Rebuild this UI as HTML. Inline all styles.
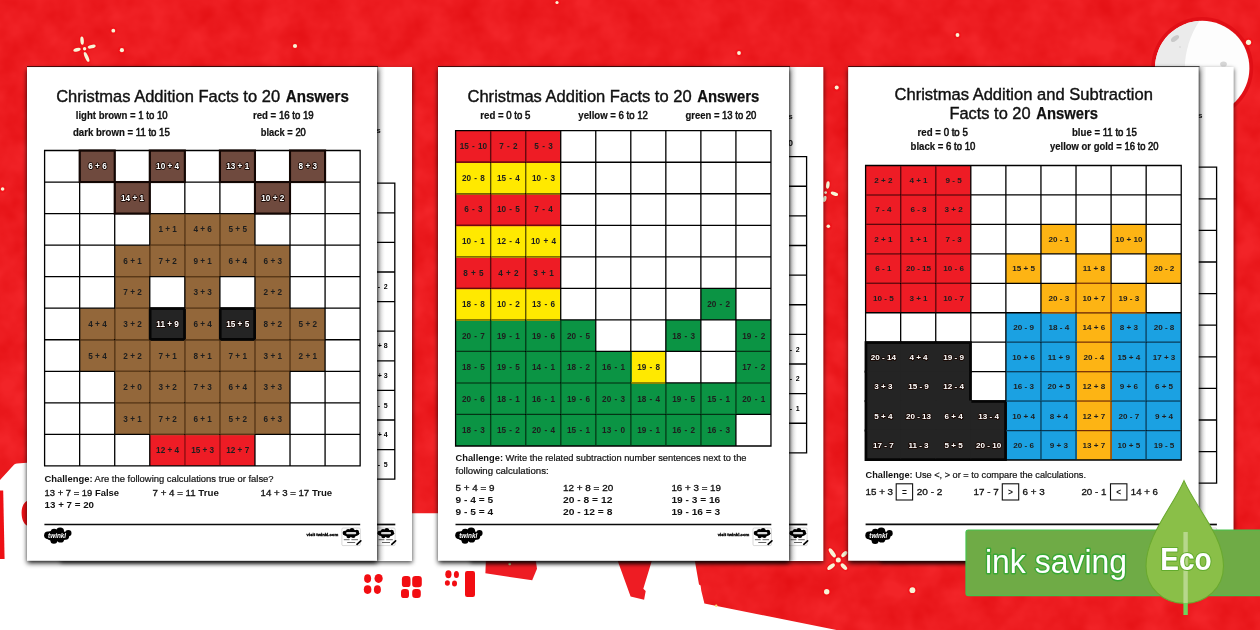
<!DOCTYPE html>
<html lang="en"><head><meta charset="utf-8"><title>Christmas Addition Facts to 20</title>
<style>html,body{margin:0;padding:0;background:#ec1d22;}body{width:1260px;height:630px;overflow:hidden;font-family:"Liberation Sans",sans-serif;}svg{display:block;will-change:transform;transform:translateZ(0);}text{white-space:pre;}</style>
</head><body>
<svg width="1260" height="630" viewBox="0 0 1260 630" font-family="Liberation Sans, sans-serif">
<defs><filter id="sh" x="-10%" y="-5%" width="120%" height="110%"><feDropShadow dx="0.4" dy="1.8" stdDeviation="2.2" flood-color="#000" flood-opacity=".7"/></filter><filter id="sh2" x="-10%" y="-5%" width="120%" height="110%"><feDropShadow dx="0.3" dy="2.4" stdDeviation="2.7" flood-color="#000" flood-opacity=".95"/></filter><linearGradient id="es" x1="0" x2="1" y1="0" y2="0"><stop offset="0" stop-color="#000" stop-opacity=".36"/><stop offset=".25" stop-color="#000" stop-opacity=".13"/><stop offset="1" stop-color="#000" stop-opacity="0"/></linearGradient><filter id="tex" x="0" y="0" width="100%" height="100%" color-interpolation-filters="sRGB"><feTurbulence type="fractalNoise" baseFrequency="0.035" numOctaves="3" seed="7" result="n"/><feColorMatrix in="n" type="matrix" values="0 0 0 0 0.88  0 0 0 0 0.04  0 0 0 0 0.055  1.1 0 0 0 -0.25"/></filter></defs>
<rect x="0" y="0" width="1260" height="630" fill="#f22428"/>
<rect x="0" y="0" width="1260" height="630" filter="url(#tex)"/>
<path d="M0,559 L0,480 L13.5,465.2 C14.5,464.1 15.5,463.5 17,463.4 L27,462.7 L405,462.7 L405,513.3 L445,513.3 L445,552 L693.3,552 L699,584.4 L700.6,585.4 L701.3,590.8 L704.4,603.5 L836.5,630 L0,630 Z" fill="#fff"/>
<path d="M0,490.5 L3.2,490.5 L4.6,559 L0,559 Z" fill="#ee1015"/>
<path d="M614.5,552 L654.5,552 L643.3,588.7 L645.7,591 L644.1,599.8 L630.6,596.6 Z" fill="#ee1c23"/>
<path d="M486.2,552 L534.6,552 L537,568.8 L532.2,580.2 L485.4,573.3 Z" fill="#ee1c23"/>
<circle cx="509.7" cy="564" r="1.3" fill="#d8f0a0"/>
<path d="M27.5,500.5 C23,503 21.5,508 21.6,513 C21.7,519 23.5,524 27.5,526 Z" fill="#ee1015"/>
<ellipse cx="367.6" cy="578.6" rx="3.5" ry="4.3" fill="#f20d12"/>
<ellipse cx="378.6" cy="578.4" rx="4.1" ry="4.5" fill="#f20d12"/>
<ellipse cx="367.6" cy="589.6" rx="3.8" ry="4.3" fill="#f20d12"/>
<ellipse cx="377.4" cy="589.6" rx="3.5" ry="4.3" fill="#f20d12"/>
<rect x="401.9" y="576.1" width="8.6" height="11" rx="3.2" fill="#f20d12"/>
<rect x="412.2" y="575.9" width="9.6" height="11.4" rx="3.2" fill="#f20d12"/>
<rect x="401.0" y="589.1" width="8" height="9" rx="3.2" fill="#f20d12"/>
<rect x="412.2" y="588.9" width="8.6" height="9" rx="3.2" fill="#f20d12"/>
<ellipse cx="448.4" cy="574.3" rx="3.1" ry="4.0" fill="#f20d12"/>
<ellipse cx="456.4" cy="574.6" rx="2.5" ry="3.5" fill="#f20d12"/>
<ellipse cx="447.4" cy="583" rx="2.5" ry="2.8" fill="#f20d12"/>
<ellipse cx="454.5" cy="583.4" rx="2.5" ry="3.0" fill="#f20d12"/>
<rect x="465" y="571" width="10" height="26" rx="2.2" fill="#f20d12"/>
<circle cx="1202.2" cy="68.0" r="51.0" fill="#e10f16"/>
<circle cx="1202.2" cy="68.0" r="47.2" fill="#fdfdfd"/>
<clipPath id="mc"><circle cx="1202.2" cy="68.0" r="47.2"/></clipPath>
<g clip-path="url(#mc)">
<path d="M1200,20 C1189,36 1184,56 1185,72 C1186,92 1192,106 1200,118 L1150,118 L1150,20 Z" fill="#ebebeb"/>
<ellipse cx="1175" cy="38.5" rx="4.6" ry="2.4" transform="rotate(-35 1175 38.5)" fill="#c9c9c9"/>
<ellipse cx="1223.5" cy="64" rx="3.4" ry="2.6" fill="#d6d6d6"/>
<ellipse cx="1180" cy="47" rx="1.1" ry="1.1" fill="#dcdcdc"/>
</g>
<ellipse cx="82.10" cy="40.60" rx="5.71" ry="3.10" transform="rotate(85.6 82.10 40.60)" fill="#f20f16" opacity=".6"/>
<ellipse cx="82.10" cy="40.60" rx="4.11" ry="1.75" transform="rotate(85.6 82.10 40.60)" fill="#f7f5d6"/>
<ellipse cx="91.60" cy="46.60" rx="5.77" ry="3.10" transform="rotate(-13.0 91.60 46.60)" fill="#f20f16" opacity=".6"/>
<ellipse cx="91.60" cy="46.60" rx="4.17" ry="1.75" transform="rotate(-13.0 91.60 46.60)" fill="#f7f5d6"/>
<ellipse cx="77.00" cy="49.80" rx="5.38" ry="3.10" transform="rotate(-15.3 77.00 49.80)" fill="#f20f16" opacity=".6"/>
<ellipse cx="77.00" cy="49.80" rx="3.78" ry="1.75" transform="rotate(-15.3 77.00 49.80)" fill="#f7f5d6"/>
<ellipse cx="86.60" cy="56.90" rx="6.95" ry="3.10" transform="rotate(65.4 86.60 56.90)" fill="#f20f16" opacity=".6"/>
<ellipse cx="86.60" cy="56.90" rx="5.35" ry="1.75" transform="rotate(65.4 86.60 56.90)" fill="#f7f5d6"/>
<circle cx="84.6" cy="48.7" r="3.5999999999999996" fill="#f20f16" opacity=".6"/>
<circle cx="84.6" cy="48.7" r="1.7" fill="#f7f5d6"/>
<circle cx="113.3" cy="30.7" r="3.8" fill="#f20f16" opacity=".6"/>
<circle cx="113.3" cy="30.7" r="1.9" fill="#f7f5d6"/>
<circle cx="121.9" cy="50.2" r="4.0" fill="#f20f16" opacity=".6"/>
<circle cx="121.9" cy="50.2" r="2.1" fill="#f7f5d6"/>
<circle cx="295" cy="46" r="4.0" fill="#f20f16" opacity=".6"/>
<circle cx="295" cy="46" r="2.1" fill="#f7f5d6"/>
<circle cx="557" cy="2.5" r="3.5" fill="#f20f16" opacity=".6"/>
<circle cx="557" cy="2.5" r="1.6" fill="#f7f5d6"/>
<circle cx="739" cy="53" r="3.8" fill="#f20f16" opacity=".6"/>
<circle cx="739" cy="53" r="1.9" fill="#f7f5d6"/>
<circle cx="957.5" cy="35" r="3.8" fill="#f20f16" opacity=".6"/>
<circle cx="957.5" cy="35" r="1.9" fill="#f7f5d6"/>
<circle cx="1248.5" cy="42.3" r="4.5" fill="#f20f16" opacity=".6"/>
<circle cx="1248.5" cy="42.3" r="2.6" fill="#f7f5d6"/>
<circle cx="2.6" cy="189" r="3.7" fill="#f20f16" opacity=".6"/>
<circle cx="2.6" cy="189" r="1.8" fill="#f7f5d6"/>
<circle cx="836.7" cy="87.5" r="3.9" fill="#f20f16" opacity=".6"/>
<circle cx="836.7" cy="87.5" r="2" fill="#f7f5d6"/>
<circle cx="828.3" cy="226.3" r="3.7" fill="#f20f16" opacity=".6"/>
<circle cx="828.3" cy="226.3" r="1.8" fill="#f7f5d6"/>
<ellipse cx="827.80" cy="185.00" rx="5.32" ry="3.10" transform="rotate(97.8 827.80 185.00)" fill="#f20f16" opacity=".6"/>
<ellipse cx="827.80" cy="185.00" rx="3.72" ry="1.75" transform="rotate(97.8 827.80 185.00)" fill="#f7f5d6"/>
<ellipse cx="834.40" cy="193.75" rx="5.42" ry="3.10" transform="rotate(18.8 834.40 193.75)" fill="#f20f16" opacity=".6"/>
<ellipse cx="834.40" cy="193.75" rx="3.82" ry="1.75" transform="rotate(18.8 834.40 193.75)" fill="#f7f5d6"/>
<ellipse cx="824.65" cy="198.90" rx="4.84" ry="3.10" transform="rotate(101.6 824.65 198.90)" fill="#f20f16" opacity=".6"/>
<ellipse cx="824.65" cy="198.90" rx="3.24" ry="1.75" transform="rotate(101.6 824.65 198.90)" fill="#f7f5d6"/>
<circle cx="825.6" cy="192.6" r="3.3" fill="#f20f16" opacity=".6"/>
<circle cx="825.6" cy="192.6" r="1.4" fill="#f7f5d6"/>
<ellipse cx="832.30" cy="552.95" rx="7.02" ry="3.40" transform="rotate(54.6 832.30 552.95)" fill="#f20f16" opacity=".6"/>
<ellipse cx="832.30" cy="552.95" rx="5.42" ry="2.05" transform="rotate(54.6 832.30 552.95)" fill="#f7f5d6"/>
<ellipse cx="844.30" cy="554.10" rx="5.24" ry="3.40" transform="rotate(-45.0 844.30 554.10)" fill="#f20f16" opacity=".6"/>
<ellipse cx="844.30" cy="554.10" rx="3.64" ry="2.05" transform="rotate(-45.0 844.30 554.10)" fill="#f7f5d6"/>
<ellipse cx="831.10" cy="566.65" rx="6.07" ry="3.40" transform="rotate(-38.2 831.10 566.65)" fill="#f20f16" opacity=".6"/>
<ellipse cx="831.10" cy="566.65" rx="4.47" ry="2.05" transform="rotate(-38.2 831.10 566.65)" fill="#f7f5d6"/>
<ellipse cx="843.90" cy="566.65" rx="5.70" ry="3.40" transform="rotate(45.9 843.90 566.65)" fill="#f20f16" opacity=".6"/>
<ellipse cx="843.90" cy="566.65" rx="4.10" ry="2.05" transform="rotate(45.9 843.90 566.65)" fill="#f7f5d6"/>
<circle cx="838.3" cy="560" r="4.4" fill="#f20f16" opacity=".6"/>
<circle cx="838.3" cy="560" r="2.5" fill="#f7f5d6"/>
<circle cx="826.7" cy="591.7" r="4.6" fill="#f20f16" opacity=".6"/>
<circle cx="826.7" cy="591.7" r="2.7" fill="#f7f5d6"/>
<circle cx="912.4" cy="590.2" r="4.8" fill="#f20f16" opacity=".6"/>
<circle cx="912.4" cy="590.2" r="2.9" fill="#f7f5d6"/>
<circle cx="716.2" cy="605.7" r="1.2" fill="#f5e27a"/>
<rect x="60" y="67.0" width="352.00" height="494.00" fill="#fff" filter="url(#sh)"/>
<path d="M394.80,183.20V479.20M375.00,183.20H394.80M375.00,212.80H394.80M375.00,242.40H394.80M375.00,272.00H394.80M375.00,301.60H394.80M375.00,331.20H394.80M375.00,360.80H394.80M375.00,390.40H394.80M375.00,420.00H394.80M375.00,449.60H394.80M375.00,479.20H394.80" stroke="#000" stroke-width="1.3" fill="none" stroke-linecap="square"/>
<text x="377.80" y="289.20" font-size="7.0" font-weight="bold" fill="#000" textLength="9.80" lengthAdjust="spacing">- 2</text>
<text x="377.80" y="348.40" font-size="7.0" font-weight="bold" fill="#000" textLength="9.80" lengthAdjust="spacing">+ 8</text>
<text x="377.80" y="378.00" font-size="7.0" font-weight="bold" fill="#000" textLength="9.80" lengthAdjust="spacing">+ 3</text>
<text x="377.80" y="407.60" font-size="7.0" font-weight="bold" fill="#000" textLength="9.80" lengthAdjust="spacing">- 5</text>
<text x="377.80" y="437.20" font-size="7.0" font-weight="bold" fill="#000" textLength="9.80" lengthAdjust="spacing">+ 4</text>
<text x="377.80" y="466.80" font-size="7.0" font-weight="bold" fill="#000" textLength="9.80" lengthAdjust="spacing">- 5</text>
<text x="376.20" y="133.40" font-size="8" font-weight="bold" fill="#111">s</text>
<line x1="375.0" y1="524.5" x2="395.30" y2="524.5" stroke="#0a0a0a" stroke-width="1.7"/>
<g transform="translate(376.40,527.70)">
<rect x="0.3" y="0.3" width="18.4" height="17.6" rx="1.2" fill="#fff" stroke="#bdbdbd" stroke-width=".6"/>
<g fill="#000"><ellipse cx="9.6" cy="5.6" rx="8.2" ry="3.6"/><circle cx="10.4" cy="2.9" r="2.5"/><circle cx="15.2" cy="4.2" r="2.2"/><circle cx="7" cy="8.4" r="2.2"/><circle cx="11.6" cy="8" r="2.3"/><circle cx="3.4" cy="5.4" r="2.4"/><circle cx="6.6" cy="3.4" r="2.2"/></g>
<rect x="4.6" y="4.2" width="10" height="2.3" rx="1" fill="#fff" opacity=".85"/>
<g stroke="#555" stroke-width=".9"><line x1="2.2" y1="12" x2="8" y2="12"/><line x1="9.8" y1="12" x2="16.4" y2="12"/><line x1="5.6" y1="14.8" x2="13.6" y2="14.8"/></g>
<line x1="15.4" y1="16.6" x2="19.2" y2="13.2" stroke="#000" stroke-width="1.7" stroke-linecap="round"/>
</g>
<rect x="27.0" y="67.0" width="350.00" height="493.60" fill="#fff" filter="url(#sh2)"/>
<line x1="27.0" y1="66.55" x2="378.0" y2="66.55" stroke="#000" stroke-width=".9" opacity=".75"/>
<rect x="377.0" y="67.0" width="8" height="493.60" fill="url(#es)"/>
<text x="56.20" y="102.10" font-size="16.8" fill="#111" textLength="223.90" lengthAdjust="spacingAndGlyphs" stroke="#111" stroke-width=".4">Christmas Addition Facts to 20</text>
<text x="285.70" y="102.10" font-size="16.8" font-weight="bold" fill="#111" textLength="63.20" lengthAdjust="spacingAndGlyphs" stroke="#111" stroke-width=".25">Answers</text>
<text x="75.80" y="119.00" font-size="10.2" font-weight="bold" fill="#111" stroke="#111" stroke-width=".2" textLength="91.80" lengthAdjust="spacingAndGlyphs">light brown = <tspan font-weight="normal" stroke="#111" stroke-width=".55">1 to 10</tspan></text>
<text x="72.95" y="135.80" font-size="10.2" font-weight="bold" fill="#111" stroke="#111" stroke-width=".2" textLength="96.90" lengthAdjust="spacingAndGlyphs">dark brown = <tspan font-weight="normal" stroke="#111" stroke-width=".55">11 to 15</tspan></text>
<text x="252.95" y="119.00" font-size="10.2" font-weight="bold" fill="#111" stroke="#111" stroke-width=".2" textLength="60.70" lengthAdjust="spacingAndGlyphs">red = <tspan font-weight="normal" stroke="#111" stroke-width=".55">16 to 19</tspan></text>
<text x="260.80" y="135.80" font-size="10.2" font-weight="bold" fill="#111" stroke="#111" stroke-width=".2" textLength="45.00" lengthAdjust="spacingAndGlyphs">black = <tspan font-weight="normal" stroke="#111" stroke-width=".55">20</tspan></text>
<rect x="79.66" y="150.50" width="35.06" height="31.54" fill="#6f4a3e"/>
<rect x="149.78" y="150.50" width="35.06" height="31.54" fill="#6f4a3e"/>
<rect x="219.90" y="150.50" width="35.06" height="31.54" fill="#6f4a3e"/>
<rect x="290.02" y="150.50" width="35.06" height="31.54" fill="#6f4a3e"/>
<rect x="114.72" y="182.04" width="35.06" height="31.54" fill="#6f4a3e"/>
<rect x="254.96" y="182.04" width="35.06" height="31.54" fill="#6f4a3e"/>
<rect x="149.78" y="213.58" width="35.06" height="31.54" fill="#93673a"/>
<rect x="184.84" y="213.58" width="35.06" height="31.54" fill="#93673a"/>
<rect x="219.90" y="213.58" width="35.06" height="31.54" fill="#93673a"/>
<rect x="114.72" y="245.12" width="35.06" height="31.54" fill="#93673a"/>
<rect x="149.78" y="245.12" width="35.06" height="31.54" fill="#93673a"/>
<rect x="184.84" y="245.12" width="35.06" height="31.54" fill="#93673a"/>
<rect x="219.90" y="245.12" width="35.06" height="31.54" fill="#93673a"/>
<rect x="254.96" y="245.12" width="35.06" height="31.54" fill="#93673a"/>
<rect x="114.72" y="276.66" width="35.06" height="31.54" fill="#93673a"/>
<rect x="184.84" y="276.66" width="35.06" height="31.54" fill="#93673a"/>
<rect x="254.96" y="276.66" width="35.06" height="31.54" fill="#93673a"/>
<rect x="79.66" y="308.20" width="35.06" height="31.54" fill="#93673a"/>
<rect x="114.72" y="308.20" width="35.06" height="31.54" fill="#93673a"/>
<rect x="149.78" y="308.20" width="35.06" height="31.54" fill="#262626"/>
<rect x="184.84" y="308.20" width="35.06" height="31.54" fill="#93673a"/>
<rect x="219.90" y="308.20" width="35.06" height="31.54" fill="#262626"/>
<rect x="254.96" y="308.20" width="35.06" height="31.54" fill="#93673a"/>
<rect x="290.02" y="308.20" width="35.06" height="31.54" fill="#93673a"/>
<rect x="79.66" y="339.74" width="35.06" height="31.54" fill="#93673a"/>
<rect x="114.72" y="339.74" width="35.06" height="31.54" fill="#93673a"/>
<rect x="149.78" y="339.74" width="35.06" height="31.54" fill="#93673a"/>
<rect x="184.84" y="339.74" width="35.06" height="31.54" fill="#93673a"/>
<rect x="219.90" y="339.74" width="35.06" height="31.54" fill="#93673a"/>
<rect x="254.96" y="339.74" width="35.06" height="31.54" fill="#93673a"/>
<rect x="290.02" y="339.74" width="35.06" height="31.54" fill="#93673a"/>
<rect x="114.72" y="371.28" width="35.06" height="31.54" fill="#93673a"/>
<rect x="149.78" y="371.28" width="35.06" height="31.54" fill="#93673a"/>
<rect x="184.84" y="371.28" width="35.06" height="31.54" fill="#93673a"/>
<rect x="219.90" y="371.28" width="35.06" height="31.54" fill="#93673a"/>
<rect x="254.96" y="371.28" width="35.06" height="31.54" fill="#93673a"/>
<rect x="114.72" y="402.82" width="35.06" height="31.54" fill="#93673a"/>
<rect x="149.78" y="402.82" width="35.06" height="31.54" fill="#93673a"/>
<rect x="184.84" y="402.82" width="35.06" height="31.54" fill="#93673a"/>
<rect x="219.90" y="402.82" width="35.06" height="31.54" fill="#93673a"/>
<rect x="254.96" y="402.82" width="35.06" height="31.54" fill="#93673a"/>
<rect x="149.78" y="434.36" width="35.06" height="31.54" fill="#ee1c25"/>
<rect x="184.84" y="434.36" width="35.06" height="31.54" fill="#ee1c25"/>
<rect x="219.90" y="434.36" width="35.06" height="31.54" fill="#ee1c25"/>
<path d="M44.60,150.50V465.90M79.66,150.50V465.90M114.72,150.50V465.90M149.78,150.50V465.90M184.84,150.50V465.90M219.90,150.50V465.90M254.96,150.50V465.90M290.02,150.50V465.90M325.08,150.50V465.90M360.14,150.50V465.90M44.60,150.50H360.14M44.60,182.04H360.14M44.60,213.58H360.14M44.60,245.12H360.14M44.60,276.66H360.14M44.60,308.20H360.14M44.60,339.74H360.14M44.60,371.28H360.14M44.60,402.82H360.14M44.60,434.36H360.14M44.60,465.90H360.14" stroke="#000" stroke-width="1.3" fill="none" stroke-linecap="square"/>
<rect x="79.66" y="150.50" width="35.06" height="31.54" fill="none" stroke="#120603" stroke-width="2.1"/>
<rect x="149.78" y="150.50" width="35.06" height="31.54" fill="none" stroke="#120603" stroke-width="2.1"/>
<rect x="219.90" y="150.50" width="35.06" height="31.54" fill="none" stroke="#120603" stroke-width="2.1"/>
<rect x="290.02" y="150.50" width="35.06" height="31.54" fill="none" stroke="#120603" stroke-width="2.1"/>
<rect x="114.72" y="182.04" width="35.06" height="31.54" fill="none" stroke="#120603" stroke-width="2.1"/>
<rect x="254.96" y="182.04" width="35.06" height="31.54" fill="none" stroke="#120603" stroke-width="2.1"/>
<rect x="148.78" y="307.20" width="37.06" height="33.54" fill="#050505"/>
<rect x="218.90" y="307.20" width="37.06" height="33.54" fill="#050505"/>
<line x1="184.84" y1="214.28" x2="184.84" y2="244.42" stroke="#93673a" stroke-width="1.7"/><line x1="184.84" y1="214.28" x2="184.84" y2="244.42" stroke="#4a2a0c" stroke-width="0.9"/>
<line x1="150.48" y1="245.12" x2="184.14" y2="245.12" stroke="#93673a" stroke-width="1.7"/><line x1="150.48" y1="245.12" x2="184.14" y2="245.12" stroke="#4a2a0c" stroke-width="0.9"/>
<line x1="219.90" y1="214.28" x2="219.90" y2="244.42" stroke="#93673a" stroke-width="1.7"/><line x1="219.90" y1="214.28" x2="219.90" y2="244.42" stroke="#4a2a0c" stroke-width="0.9"/>
<line x1="185.54" y1="245.12" x2="219.20" y2="245.12" stroke="#93673a" stroke-width="1.7"/><line x1="185.54" y1="245.12" x2="219.20" y2="245.12" stroke="#4a2a0c" stroke-width="0.9"/>
<line x1="220.60" y1="245.12" x2="254.26" y2="245.12" stroke="#93673a" stroke-width="1.7"/><line x1="220.60" y1="245.12" x2="254.26" y2="245.12" stroke="#4a2a0c" stroke-width="0.9"/>
<line x1="149.78" y1="245.82" x2="149.78" y2="275.96" stroke="#93673a" stroke-width="1.7"/><line x1="149.78" y1="245.82" x2="149.78" y2="275.96" stroke="#4a2a0c" stroke-width="0.9"/>
<line x1="115.42" y1="276.66" x2="149.08" y2="276.66" stroke="#93673a" stroke-width="1.7"/><line x1="115.42" y1="276.66" x2="149.08" y2="276.66" stroke="#4a2a0c" stroke-width="0.9"/>
<line x1="184.84" y1="245.82" x2="184.84" y2="275.96" stroke="#93673a" stroke-width="1.7"/><line x1="184.84" y1="245.82" x2="184.84" y2="275.96" stroke="#4a2a0c" stroke-width="0.9"/>
<line x1="219.90" y1="245.82" x2="219.90" y2="275.96" stroke="#93673a" stroke-width="1.7"/><line x1="219.90" y1="245.82" x2="219.90" y2="275.96" stroke="#4a2a0c" stroke-width="0.9"/>
<line x1="185.54" y1="276.66" x2="219.20" y2="276.66" stroke="#93673a" stroke-width="1.7"/><line x1="185.54" y1="276.66" x2="219.20" y2="276.66" stroke="#4a2a0c" stroke-width="0.9"/>
<line x1="254.96" y1="245.82" x2="254.96" y2="275.96" stroke="#93673a" stroke-width="1.7"/><line x1="254.96" y1="245.82" x2="254.96" y2="275.96" stroke="#4a2a0c" stroke-width="0.9"/>
<line x1="255.66" y1="276.66" x2="289.32" y2="276.66" stroke="#93673a" stroke-width="1.7"/><line x1="255.66" y1="276.66" x2="289.32" y2="276.66" stroke="#4a2a0c" stroke-width="0.9"/>
<line x1="115.42" y1="308.20" x2="149.08" y2="308.20" stroke="#93673a" stroke-width="1.7"/><line x1="115.42" y1="308.20" x2="149.08" y2="308.20" stroke="#4a2a0c" stroke-width="0.9"/>
<line x1="185.54" y1="308.20" x2="219.20" y2="308.20" stroke="#93673a" stroke-width="1.7"/><line x1="185.54" y1="308.20" x2="219.20" y2="308.20" stroke="#4a2a0c" stroke-width="0.9"/>
<line x1="255.66" y1="308.20" x2="289.32" y2="308.20" stroke="#93673a" stroke-width="1.7"/><line x1="255.66" y1="308.20" x2="289.32" y2="308.20" stroke="#4a2a0c" stroke-width="0.9"/>
<line x1="114.72" y1="308.90" x2="114.72" y2="339.04" stroke="#93673a" stroke-width="1.7"/><line x1="114.72" y1="308.90" x2="114.72" y2="339.04" stroke="#4a2a0c" stroke-width="0.9"/>
<line x1="80.36" y1="339.74" x2="114.02" y2="339.74" stroke="#93673a" stroke-width="1.7"/><line x1="80.36" y1="339.74" x2="114.02" y2="339.74" stroke="#4a2a0c" stroke-width="0.9"/>
<line x1="115.42" y1="339.74" x2="149.08" y2="339.74" stroke="#93673a" stroke-width="1.7"/><line x1="115.42" y1="339.74" x2="149.08" y2="339.74" stroke="#4a2a0c" stroke-width="0.9"/>
<line x1="185.54" y1="339.74" x2="219.20" y2="339.74" stroke="#93673a" stroke-width="1.7"/><line x1="185.54" y1="339.74" x2="219.20" y2="339.74" stroke="#4a2a0c" stroke-width="0.9"/>
<line x1="290.02" y1="308.90" x2="290.02" y2="339.04" stroke="#93673a" stroke-width="1.7"/><line x1="290.02" y1="308.90" x2="290.02" y2="339.04" stroke="#4a2a0c" stroke-width="0.9"/>
<line x1="255.66" y1="339.74" x2="289.32" y2="339.74" stroke="#93673a" stroke-width="1.7"/><line x1="255.66" y1="339.74" x2="289.32" y2="339.74" stroke="#4a2a0c" stroke-width="0.9"/>
<line x1="290.72" y1="339.74" x2="324.38" y2="339.74" stroke="#93673a" stroke-width="1.7"/><line x1="290.72" y1="339.74" x2="324.38" y2="339.74" stroke="#4a2a0c" stroke-width="0.9"/>
<line x1="114.72" y1="340.44" x2="114.72" y2="370.58" stroke="#93673a" stroke-width="1.7"/><line x1="114.72" y1="340.44" x2="114.72" y2="370.58" stroke="#4a2a0c" stroke-width="0.9"/>
<line x1="149.78" y1="340.44" x2="149.78" y2="370.58" stroke="#93673a" stroke-width="1.7"/><line x1="149.78" y1="340.44" x2="149.78" y2="370.58" stroke="#4a2a0c" stroke-width="0.9"/>
<line x1="115.42" y1="371.28" x2="149.08" y2="371.28" stroke="#93673a" stroke-width="1.7"/><line x1="115.42" y1="371.28" x2="149.08" y2="371.28" stroke="#4a2a0c" stroke-width="0.9"/>
<line x1="184.84" y1="340.44" x2="184.84" y2="370.58" stroke="#93673a" stroke-width="1.7"/><line x1="184.84" y1="340.44" x2="184.84" y2="370.58" stroke="#4a2a0c" stroke-width="0.9"/>
<line x1="150.48" y1="371.28" x2="184.14" y2="371.28" stroke="#93673a" stroke-width="1.7"/><line x1="150.48" y1="371.28" x2="184.14" y2="371.28" stroke="#4a2a0c" stroke-width="0.9"/>
<line x1="219.90" y1="340.44" x2="219.90" y2="370.58" stroke="#93673a" stroke-width="1.7"/><line x1="219.90" y1="340.44" x2="219.90" y2="370.58" stroke="#4a2a0c" stroke-width="0.9"/>
<line x1="185.54" y1="371.28" x2="219.20" y2="371.28" stroke="#93673a" stroke-width="1.7"/><line x1="185.54" y1="371.28" x2="219.20" y2="371.28" stroke="#4a2a0c" stroke-width="0.9"/>
<line x1="254.96" y1="340.44" x2="254.96" y2="370.58" stroke="#93673a" stroke-width="1.7"/><line x1="254.96" y1="340.44" x2="254.96" y2="370.58" stroke="#4a2a0c" stroke-width="0.9"/>
<line x1="220.60" y1="371.28" x2="254.26" y2="371.28" stroke="#93673a" stroke-width="1.7"/><line x1="220.60" y1="371.28" x2="254.26" y2="371.28" stroke="#4a2a0c" stroke-width="0.9"/>
<line x1="290.02" y1="340.44" x2="290.02" y2="370.58" stroke="#93673a" stroke-width="1.7"/><line x1="290.02" y1="340.44" x2="290.02" y2="370.58" stroke="#4a2a0c" stroke-width="0.9"/>
<line x1="255.66" y1="371.28" x2="289.32" y2="371.28" stroke="#93673a" stroke-width="1.7"/><line x1="255.66" y1="371.28" x2="289.32" y2="371.28" stroke="#4a2a0c" stroke-width="0.9"/>
<line x1="149.78" y1="371.98" x2="149.78" y2="402.12" stroke="#93673a" stroke-width="1.7"/><line x1="149.78" y1="371.98" x2="149.78" y2="402.12" stroke="#4a2a0c" stroke-width="0.9"/>
<line x1="115.42" y1="402.82" x2="149.08" y2="402.82" stroke="#93673a" stroke-width="1.7"/><line x1="115.42" y1="402.82" x2="149.08" y2="402.82" stroke="#4a2a0c" stroke-width="0.9"/>
<line x1="184.84" y1="371.98" x2="184.84" y2="402.12" stroke="#93673a" stroke-width="1.7"/><line x1="184.84" y1="371.98" x2="184.84" y2="402.12" stroke="#4a2a0c" stroke-width="0.9"/>
<line x1="150.48" y1="402.82" x2="184.14" y2="402.82" stroke="#93673a" stroke-width="1.7"/><line x1="150.48" y1="402.82" x2="184.14" y2="402.82" stroke="#4a2a0c" stroke-width="0.9"/>
<line x1="219.90" y1="371.98" x2="219.90" y2="402.12" stroke="#93673a" stroke-width="1.7"/><line x1="219.90" y1="371.98" x2="219.90" y2="402.12" stroke="#4a2a0c" stroke-width="0.9"/>
<line x1="185.54" y1="402.82" x2="219.20" y2="402.82" stroke="#93673a" stroke-width="1.7"/><line x1="185.54" y1="402.82" x2="219.20" y2="402.82" stroke="#4a2a0c" stroke-width="0.9"/>
<line x1="254.96" y1="371.98" x2="254.96" y2="402.12" stroke="#93673a" stroke-width="1.7"/><line x1="254.96" y1="371.98" x2="254.96" y2="402.12" stroke="#4a2a0c" stroke-width="0.9"/>
<line x1="220.60" y1="402.82" x2="254.26" y2="402.82" stroke="#93673a" stroke-width="1.7"/><line x1="220.60" y1="402.82" x2="254.26" y2="402.82" stroke="#4a2a0c" stroke-width="0.9"/>
<line x1="255.66" y1="402.82" x2="289.32" y2="402.82" stroke="#93673a" stroke-width="1.7"/><line x1="255.66" y1="402.82" x2="289.32" y2="402.82" stroke="#4a2a0c" stroke-width="0.9"/>
<line x1="149.78" y1="403.52" x2="149.78" y2="433.66" stroke="#93673a" stroke-width="1.7"/><line x1="149.78" y1="403.52" x2="149.78" y2="433.66" stroke="#4a2a0c" stroke-width="0.9"/>
<line x1="184.84" y1="403.52" x2="184.84" y2="433.66" stroke="#93673a" stroke-width="1.7"/><line x1="184.84" y1="403.52" x2="184.84" y2="433.66" stroke="#4a2a0c" stroke-width="0.9"/>
<line x1="150.48" y1="434.36" x2="184.14" y2="434.36" stroke="#93673a" stroke-width="1.7"/><line x1="150.48" y1="434.36" x2="184.14" y2="434.36" stroke="#4a2a0c" stroke-width="0.9"/>
<line x1="219.90" y1="403.52" x2="219.90" y2="433.66" stroke="#93673a" stroke-width="1.7"/><line x1="219.90" y1="403.52" x2="219.90" y2="433.66" stroke="#4a2a0c" stroke-width="0.9"/>
<line x1="185.54" y1="434.36" x2="219.20" y2="434.36" stroke="#93673a" stroke-width="1.7"/><line x1="185.54" y1="434.36" x2="219.20" y2="434.36" stroke="#4a2a0c" stroke-width="0.9"/>
<line x1="254.96" y1="403.52" x2="254.96" y2="433.66" stroke="#93673a" stroke-width="1.7"/><line x1="254.96" y1="403.52" x2="254.96" y2="433.66" stroke="#4a2a0c" stroke-width="0.9"/>
<line x1="220.60" y1="434.36" x2="254.26" y2="434.36" stroke="#93673a" stroke-width="1.7"/><line x1="220.60" y1="434.36" x2="254.26" y2="434.36" stroke="#4a2a0c" stroke-width="0.9"/>
<line x1="184.84" y1="435.06" x2="184.84" y2="465.20" stroke="#ee1c25" stroke-width="1.7"/><line x1="184.84" y1="435.06" x2="184.84" y2="465.20" stroke="#7a0a0c" stroke-width="0.9"/>
<line x1="219.90" y1="435.06" x2="219.90" y2="465.20" stroke="#ee1c25" stroke-width="1.7"/><line x1="219.90" y1="435.06" x2="219.90" y2="465.20" stroke="#7a0a0c" stroke-width="0.9"/>
<rect x="151.48" y="309.90" width="31.66" height="28.14" fill="#242424"/>
<rect x="221.60" y="309.90" width="31.66" height="28.14" fill="#242424"/>
<text x="97.49" y="169.27" font-size="8.2" font-weight="bold" text-anchor="middle" fill="#fff" stroke="#1a0a05" stroke-width="1.8" stroke-linejoin="round" paint-order="stroke">6 + 6</text>
<text x="167.61" y="169.27" font-size="8.2" font-weight="bold" text-anchor="middle" fill="#fff" stroke="#1a0a05" stroke-width="1.8" stroke-linejoin="round" paint-order="stroke">10 + 4</text>
<text x="237.73" y="169.27" font-size="8.2" font-weight="bold" text-anchor="middle" fill="#fff" stroke="#1a0a05" stroke-width="1.8" stroke-linejoin="round" paint-order="stroke">13 + 1</text>
<text x="307.85" y="169.27" font-size="8.2" font-weight="bold" text-anchor="middle" fill="#fff" stroke="#1a0a05" stroke-width="1.8" stroke-linejoin="round" paint-order="stroke">8 + 3</text>
<text x="132.55" y="200.81" font-size="8.2" font-weight="bold" text-anchor="middle" fill="#fff" stroke="#1a0a05" stroke-width="1.8" stroke-linejoin="round" paint-order="stroke">14 + 1</text>
<text x="272.79" y="200.81" font-size="8.2" font-weight="bold" text-anchor="middle" fill="#fff" stroke="#1a0a05" stroke-width="1.8" stroke-linejoin="round" paint-order="stroke">10 + 2</text>
<text x="167.61" y="232.35" font-size="8.2" font-weight="bold" text-anchor="middle" fill="#1e1e1e">1 + 1</text>
<text x="202.67" y="232.35" font-size="8.2" font-weight="bold" text-anchor="middle" fill="#1e1e1e">4 + 6</text>
<text x="237.73" y="232.35" font-size="8.2" font-weight="bold" text-anchor="middle" fill="#1e1e1e">5 + 5</text>
<text x="132.55" y="263.89" font-size="8.2" font-weight="bold" text-anchor="middle" fill="#1e1e1e">6 + 1</text>
<text x="167.61" y="263.89" font-size="8.2" font-weight="bold" text-anchor="middle" fill="#1e1e1e">7 + 2</text>
<text x="202.67" y="263.89" font-size="8.2" font-weight="bold" text-anchor="middle" fill="#1e1e1e">9 + 1</text>
<text x="237.73" y="263.89" font-size="8.2" font-weight="bold" text-anchor="middle" fill="#1e1e1e">6 + 4</text>
<text x="272.79" y="263.89" font-size="8.2" font-weight="bold" text-anchor="middle" fill="#1e1e1e">6 + 3</text>
<text x="132.55" y="295.43" font-size="8.2" font-weight="bold" text-anchor="middle" fill="#1e1e1e">7 + 2</text>
<text x="202.67" y="295.43" font-size="8.2" font-weight="bold" text-anchor="middle" fill="#1e1e1e">3 + 3</text>
<text x="272.79" y="295.43" font-size="8.2" font-weight="bold" text-anchor="middle" fill="#1e1e1e">2 + 2</text>
<text x="97.49" y="326.97" font-size="8.2" font-weight="bold" text-anchor="middle" fill="#1e1e1e">4 + 4</text>
<text x="132.55" y="326.97" font-size="8.2" font-weight="bold" text-anchor="middle" fill="#1e1e1e">3 + 2</text>
<text x="167.61" y="326.97" font-size="8.2" font-weight="bold" text-anchor="middle" fill="#fff" stroke="#1a0a05" stroke-width="1.8" stroke-linejoin="round" paint-order="stroke">11 + 9</text>
<text x="202.67" y="326.97" font-size="8.2" font-weight="bold" text-anchor="middle" fill="#1e1e1e">6 + 4</text>
<text x="237.73" y="326.97" font-size="8.2" font-weight="bold" text-anchor="middle" fill="#fff" stroke="#1a0a05" stroke-width="1.8" stroke-linejoin="round" paint-order="stroke">15 + 5</text>
<text x="272.79" y="326.97" font-size="8.2" font-weight="bold" text-anchor="middle" fill="#1e1e1e">8 + 2</text>
<text x="307.85" y="326.97" font-size="8.2" font-weight="bold" text-anchor="middle" fill="#1e1e1e">5 + 2</text>
<text x="97.49" y="358.51" font-size="8.2" font-weight="bold" text-anchor="middle" fill="#1e1e1e">5 + 4</text>
<text x="132.55" y="358.51" font-size="8.2" font-weight="bold" text-anchor="middle" fill="#1e1e1e">2 + 2</text>
<text x="167.61" y="358.51" font-size="8.2" font-weight="bold" text-anchor="middle" fill="#1e1e1e">7 + 1</text>
<text x="202.67" y="358.51" font-size="8.2" font-weight="bold" text-anchor="middle" fill="#1e1e1e">8 + 1</text>
<text x="237.73" y="358.51" font-size="8.2" font-weight="bold" text-anchor="middle" fill="#1e1e1e">7 + 1</text>
<text x="272.79" y="358.51" font-size="8.2" font-weight="bold" text-anchor="middle" fill="#1e1e1e">3 + 1</text>
<text x="307.85" y="358.51" font-size="8.2" font-weight="bold" text-anchor="middle" fill="#1e1e1e">2 + 1</text>
<text x="132.55" y="390.05" font-size="8.2" font-weight="bold" text-anchor="middle" fill="#1e1e1e">2 + 0</text>
<text x="167.61" y="390.05" font-size="8.2" font-weight="bold" text-anchor="middle" fill="#1e1e1e">3 + 2</text>
<text x="202.67" y="390.05" font-size="8.2" font-weight="bold" text-anchor="middle" fill="#1e1e1e">7 + 3</text>
<text x="237.73" y="390.05" font-size="8.2" font-weight="bold" text-anchor="middle" fill="#1e1e1e">6 + 4</text>
<text x="272.79" y="390.05" font-size="8.2" font-weight="bold" text-anchor="middle" fill="#1e1e1e">3 + 3</text>
<text x="132.55" y="421.59" font-size="8.2" font-weight="bold" text-anchor="middle" fill="#1e1e1e">3 + 1</text>
<text x="167.61" y="421.59" font-size="8.2" font-weight="bold" text-anchor="middle" fill="#1e1e1e">7 + 2</text>
<text x="202.67" y="421.59" font-size="8.2" font-weight="bold" text-anchor="middle" fill="#1e1e1e">6 + 1</text>
<text x="237.73" y="421.59" font-size="8.2" font-weight="bold" text-anchor="middle" fill="#1e1e1e">5 + 2</text>
<text x="272.79" y="421.59" font-size="8.2" font-weight="bold" text-anchor="middle" fill="#1e1e1e">6 + 3</text>
<text x="167.61" y="453.13" font-size="8.2" font-weight="bold" text-anchor="middle" fill="#1e1e1e">12 + 4</text>
<text x="202.67" y="453.13" font-size="8.2" font-weight="bold" text-anchor="middle" fill="#1e1e1e">15 + 3</text>
<text x="237.73" y="453.13" font-size="8.2" font-weight="bold" text-anchor="middle" fill="#1e1e1e">12 + 7</text>
<text x="44.4" y="482.3" font-size="9.2" fill="#111" textLength="229.2" lengthAdjust="spacingAndGlyphs"><tspan font-weight="bold">Challenge:</tspan> <tspan stroke="#111" stroke-width=".2">Are the following calculations true or false?</tspan></text>
<text x="44.6" y="495.8" font-size="8.8" fill="#111" textLength="74.4" lengthAdjust="spacingAndGlyphs"><tspan stroke="#111" stroke-width=".3">13 + 7 = 19 </tspan><tspan font-weight="bold">False</tspan></text>
<text x="152.6" y="495.8" font-size="8.8" fill="#111" textLength="66.2" lengthAdjust="spacingAndGlyphs"><tspan stroke="#111" stroke-width=".3">7 + 4 = 11 </tspan><tspan font-weight="bold">True</tspan></text>
<text x="260.6" y="495.8" font-size="8.8" fill="#111" textLength="71.6" lengthAdjust="spacingAndGlyphs"><tspan stroke="#111" stroke-width=".3">14 + 3 = 17 </tspan><tspan font-weight="bold">True</tspan></text>
<text x="44.60" y="507.60" font-size="8.8" font-weight="bold" fill="#111" textLength="49.40" lengthAdjust="spacingAndGlyphs">13 + 7 = 20</text>
<line x1="44.40" y1="524.5" x2="360.20" y2="524.5" stroke="#0a0a0a" stroke-width="1.7"/>
<g transform="translate(44.10,527.50)" fill="#000">
<ellipse cx="12.4" cy="8.2" rx="11.4" ry="5.6"/><circle cx="16" cy="4" r="4"/><circle cx="24.2" cy="5.6" r="3.2"/><circle cx="9.8" cy="12.8" r="3.5"/><circle cx="16.5" cy="11.4" r="3.6"/><circle cx="3.8" cy="7.8" r="3.8"/><circle cx="10" cy="4.6" r="3.4"/><circle cx="21.5" cy="8.6" r="3.6"/>
<text x="4.0" y="10.4" font-size="6.8" font-weight="bold" font-style="italic" fill="#fff" textLength="18.0" lengthAdjust="spacingAndGlyphs">twinkl</text>
</g>
<text x="306.60" y="536.30" font-size="4.4" font-weight="bold" fill="#000" textLength="31.60" lengthAdjust="spacingAndGlyphs" stroke="#000" stroke-width=".35">visit twinkl.com</text>
<g transform="translate(341.60,527.70)">
<rect x="0.3" y="0.3" width="18.4" height="17.6" rx="1.2" fill="#fff" stroke="#bdbdbd" stroke-width=".6"/>
<g fill="#000"><ellipse cx="9.6" cy="5.6" rx="8.2" ry="3.6"/><circle cx="10.4" cy="2.9" r="2.5"/><circle cx="15.2" cy="4.2" r="2.2"/><circle cx="7" cy="8.4" r="2.2"/><circle cx="11.6" cy="8" r="2.3"/><circle cx="3.4" cy="5.4" r="2.4"/><circle cx="6.6" cy="3.4" r="2.2"/></g>
<rect x="4.6" y="4.2" width="10" height="2.3" rx="1" fill="#fff" opacity=".85"/>
<g stroke="#555" stroke-width=".9"><line x1="2.2" y1="12" x2="8" y2="12"/><line x1="9.8" y1="12" x2="16.4" y2="12"/><line x1="5.6" y1="14.8" x2="13.6" y2="14.8"/></g>
<line x1="15.4" y1="16.6" x2="19.2" y2="13.2" stroke="#000" stroke-width="1.7" stroke-linecap="round"/>
</g>
<rect x="470" y="67.0" width="353.20" height="494.00" fill="#fff" filter="url(#sh)"/>
<path d="M806.60,156.60V452.90M787.00,156.60H806.60M787.00,186.23H806.60M787.00,215.86H806.60M787.00,245.49H806.60M787.00,275.12H806.60M787.00,304.75H806.60M787.00,334.38H806.60M787.00,364.01H806.60M787.00,393.64H806.60M787.00,423.27H806.60M787.00,452.90H806.60" stroke="#000" stroke-width="1.3" fill="none" stroke-linecap="square"/>
<text x="789.80" y="351.59" font-size="7.0" font-weight="bold" fill="#000" textLength="9.80" lengthAdjust="spacing">- 2</text>
<text x="789.80" y="381.22" font-size="7.0" font-weight="bold" fill="#000" textLength="9.80" lengthAdjust="spacing">- 2</text>
<text x="789.80" y="410.85" font-size="7.0" font-weight="bold" fill="#000" textLength="9.80" lengthAdjust="spacing">- 1</text>
<text x="788.20" y="119.00" font-size="8" font-weight="bold" fill="#111">s</text>
<text x="788.00" y="146.40" font-size="9" font-weight="bold" fill="#111">0</text>
<line x1="787.0" y1="524.5" x2="807.30" y2="524.5" stroke="#0a0a0a" stroke-width="1.7"/>
<g transform="translate(788.40,527.70)">
<rect x="0.3" y="0.3" width="18.4" height="17.6" rx="1.2" fill="#fff" stroke="#bdbdbd" stroke-width=".6"/>
<g fill="#000"><ellipse cx="9.6" cy="5.6" rx="8.2" ry="3.6"/><circle cx="10.4" cy="2.9" r="2.5"/><circle cx="15.2" cy="4.2" r="2.2"/><circle cx="7" cy="8.4" r="2.2"/><circle cx="11.6" cy="8" r="2.3"/><circle cx="3.4" cy="5.4" r="2.4"/><circle cx="6.6" cy="3.4" r="2.2"/></g>
<rect x="4.6" y="4.2" width="10" height="2.3" rx="1" fill="#fff" opacity=".85"/>
<g stroke="#555" stroke-width=".9"><line x1="2.2" y1="12" x2="8" y2="12"/><line x1="9.8" y1="12" x2="16.4" y2="12"/><line x1="5.6" y1="14.8" x2="13.6" y2="14.8"/></g>
<line x1="15.4" y1="16.6" x2="19.2" y2="13.2" stroke="#000" stroke-width="1.7" stroke-linecap="round"/>
</g>
<rect x="438.0" y="67.0" width="351.00" height="493.60" fill="#fff" filter="url(#sh2)"/>
<line x1="438.0" y1="66.55" x2="790.0" y2="66.55" stroke="#000" stroke-width=".9" opacity=".75"/>
<rect x="789.0" y="67.0" width="8" height="493.60" fill="url(#es)"/>
<text x="467.50" y="102.30" font-size="16.8" fill="#111" textLength="224.10" lengthAdjust="spacingAndGlyphs" stroke="#111" stroke-width=".4">Christmas Addition Facts to 20</text>
<text x="697.20" y="102.30" font-size="16.8" font-weight="bold" fill="#111" textLength="62.10" lengthAdjust="spacingAndGlyphs" stroke="#111" stroke-width=".25">Answers</text>
<text x="480.35" y="119.20" font-size="10.2" font-weight="bold" fill="#111" stroke="#111" stroke-width=".2" textLength="50.10" lengthAdjust="spacingAndGlyphs">red = <tspan font-weight="normal" stroke="#111" stroke-width=".55">0 to 5</tspan></text>
<text x="578.30" y="119.20" font-size="10.2" font-weight="bold" fill="#111" stroke="#111" stroke-width=".2" textLength="69.60" lengthAdjust="spacingAndGlyphs">yellow = <tspan font-weight="normal" stroke="#111" stroke-width=".55">6 to 12</tspan></text>
<text x="685.40" y="119.20" font-size="10.2" font-weight="bold" fill="#111" stroke="#111" stroke-width=".2" textLength="71.00" lengthAdjust="spacingAndGlyphs">green = <tspan font-weight="normal" stroke="#111" stroke-width=".55">13 to 20</tspan></text>
<rect x="455.60" y="130.70" width="35.04" height="31.53" fill="#ee1c25"/>
<rect x="490.64" y="130.70" width="35.04" height="31.53" fill="#ee1c25"/>
<rect x="525.68" y="130.70" width="35.04" height="31.53" fill="#ee1c25"/>
<rect x="455.60" y="162.23" width="35.04" height="31.53" fill="#ffe900"/>
<rect x="490.64" y="162.23" width="35.04" height="31.53" fill="#ffe900"/>
<rect x="525.68" y="162.23" width="35.04" height="31.53" fill="#ffe900"/>
<rect x="455.60" y="193.76" width="35.04" height="31.53" fill="#ee1c25"/>
<rect x="490.64" y="193.76" width="35.04" height="31.53" fill="#ee1c25"/>
<rect x="525.68" y="193.76" width="35.04" height="31.53" fill="#ee1c25"/>
<rect x="455.60" y="225.29" width="35.04" height="31.53" fill="#ffe900"/>
<rect x="490.64" y="225.29" width="35.04" height="31.53" fill="#ffe900"/>
<rect x="525.68" y="225.29" width="35.04" height="31.53" fill="#ffe900"/>
<rect x="455.60" y="256.82" width="35.04" height="31.53" fill="#ee1c25"/>
<rect x="490.64" y="256.82" width="35.04" height="31.53" fill="#ee1c25"/>
<rect x="525.68" y="256.82" width="35.04" height="31.53" fill="#ee1c25"/>
<rect x="455.60" y="288.35" width="35.04" height="31.53" fill="#ffe900"/>
<rect x="490.64" y="288.35" width="35.04" height="31.53" fill="#ffe900"/>
<rect x="525.68" y="288.35" width="35.04" height="31.53" fill="#ffe900"/>
<rect x="700.88" y="288.35" width="35.04" height="31.53" fill="#0b9444"/>
<rect x="455.60" y="319.88" width="35.04" height="31.53" fill="#0b9444"/>
<rect x="490.64" y="319.88" width="35.04" height="31.53" fill="#0b9444"/>
<rect x="525.68" y="319.88" width="35.04" height="31.53" fill="#0b9444"/>
<rect x="560.72" y="319.88" width="35.04" height="31.53" fill="#0b9444"/>
<rect x="665.84" y="319.88" width="35.04" height="31.53" fill="#0b9444"/>
<rect x="735.92" y="319.88" width="35.04" height="31.53" fill="#0b9444"/>
<rect x="455.60" y="351.41" width="35.04" height="31.53" fill="#0b9444"/>
<rect x="490.64" y="351.41" width="35.04" height="31.53" fill="#0b9444"/>
<rect x="525.68" y="351.41" width="35.04" height="31.53" fill="#0b9444"/>
<rect x="560.72" y="351.41" width="35.04" height="31.53" fill="#0b9444"/>
<rect x="595.76" y="351.41" width="35.04" height="31.53" fill="#0b9444"/>
<rect x="630.80" y="351.41" width="35.04" height="31.53" fill="#ffe900"/>
<rect x="735.92" y="351.41" width="35.04" height="31.53" fill="#0b9444"/>
<rect x="455.60" y="382.94" width="35.04" height="31.53" fill="#0b9444"/>
<rect x="490.64" y="382.94" width="35.04" height="31.53" fill="#0b9444"/>
<rect x="525.68" y="382.94" width="35.04" height="31.53" fill="#0b9444"/>
<rect x="560.72" y="382.94" width="35.04" height="31.53" fill="#0b9444"/>
<rect x="595.76" y="382.94" width="35.04" height="31.53" fill="#0b9444"/>
<rect x="630.80" y="382.94" width="35.04" height="31.53" fill="#0b9444"/>
<rect x="665.84" y="382.94" width="35.04" height="31.53" fill="#0b9444"/>
<rect x="700.88" y="382.94" width="35.04" height="31.53" fill="#0b9444"/>
<rect x="735.92" y="382.94" width="35.04" height="31.53" fill="#0b9444"/>
<rect x="455.60" y="414.47" width="35.04" height="31.53" fill="#0b9444"/>
<rect x="490.64" y="414.47" width="35.04" height="31.53" fill="#0b9444"/>
<rect x="525.68" y="414.47" width="35.04" height="31.53" fill="#0b9444"/>
<rect x="560.72" y="414.47" width="35.04" height="31.53" fill="#0b9444"/>
<rect x="595.76" y="414.47" width="35.04" height="31.53" fill="#0b9444"/>
<rect x="630.80" y="414.47" width="35.04" height="31.53" fill="#0b9444"/>
<rect x="665.84" y="414.47" width="35.04" height="31.53" fill="#0b9444"/>
<rect x="700.88" y="414.47" width="35.04" height="31.53" fill="#0b9444"/>
<path d="M455.60,130.70V446.00M490.64,130.70V446.00M525.68,130.70V446.00M560.72,130.70V446.00M595.76,130.70V446.00M630.80,130.70V446.00M665.84,130.70V446.00M700.88,130.70V446.00M735.92,130.70V446.00M770.96,130.70V446.00M455.60,130.70H770.96M455.60,162.23H770.96M455.60,193.76H770.96M455.60,225.29H770.96M455.60,256.82H770.96M455.60,288.35H770.96M455.60,319.88H770.96M455.60,351.41H770.96M455.60,382.94H770.96M455.60,414.47H770.96M455.60,446.00H770.96" stroke="#000" stroke-width="1.3" fill="none" stroke-linecap="square"/>
<line x1="490.64" y1="131.40" x2="490.64" y2="161.53" stroke="#ee1c25" stroke-width="1.7"/><line x1="490.64" y1="131.40" x2="490.64" y2="161.53" stroke="#3a0508" stroke-width="0.9"/>
<line x1="456.30" y1="162.23" x2="489.94" y2="162.23" stroke="#ee1c25" stroke-width="1.7"/><line x1="456.30" y1="162.23" x2="489.94" y2="162.23" stroke="#3a0508" stroke-width="0.9"/>
<line x1="525.68" y1="131.40" x2="525.68" y2="161.53" stroke="#ee1c25" stroke-width="1.7"/><line x1="525.68" y1="131.40" x2="525.68" y2="161.53" stroke="#3a0508" stroke-width="0.9"/>
<line x1="491.34" y1="162.23" x2="524.98" y2="162.23" stroke="#ee1c25" stroke-width="1.7"/><line x1="491.34" y1="162.23" x2="524.98" y2="162.23" stroke="#3a0508" stroke-width="0.9"/>
<line x1="526.38" y1="162.23" x2="560.02" y2="162.23" stroke="#ee1c25" stroke-width="1.7"/><line x1="526.38" y1="162.23" x2="560.02" y2="162.23" stroke="#3a0508" stroke-width="0.9"/>
<line x1="490.64" y1="162.93" x2="490.64" y2="193.06" stroke="#ffe900" stroke-width="1.7"/><line x1="490.64" y1="162.93" x2="490.64" y2="193.06" stroke="#2c2600" stroke-width="0.9"/>
<line x1="456.30" y1="193.76" x2="489.94" y2="193.76" stroke="#ffe900" stroke-width="1.7"/><line x1="456.30" y1="193.76" x2="489.94" y2="193.76" stroke="#2c2600" stroke-width="0.9"/>
<line x1="525.68" y1="162.93" x2="525.68" y2="193.06" stroke="#ffe900" stroke-width="1.7"/><line x1="525.68" y1="162.93" x2="525.68" y2="193.06" stroke="#2c2600" stroke-width="0.9"/>
<line x1="491.34" y1="193.76" x2="524.98" y2="193.76" stroke="#ffe900" stroke-width="1.7"/><line x1="491.34" y1="193.76" x2="524.98" y2="193.76" stroke="#2c2600" stroke-width="0.9"/>
<line x1="526.38" y1="193.76" x2="560.02" y2="193.76" stroke="#ffe900" stroke-width="1.7"/><line x1="526.38" y1="193.76" x2="560.02" y2="193.76" stroke="#2c2600" stroke-width="0.9"/>
<line x1="490.64" y1="194.46" x2="490.64" y2="224.59" stroke="#ee1c25" stroke-width="1.7"/><line x1="490.64" y1="194.46" x2="490.64" y2="224.59" stroke="#3a0508" stroke-width="0.9"/>
<line x1="456.30" y1="225.29" x2="489.94" y2="225.29" stroke="#ee1c25" stroke-width="1.7"/><line x1="456.30" y1="225.29" x2="489.94" y2="225.29" stroke="#3a0508" stroke-width="0.9"/>
<line x1="525.68" y1="194.46" x2="525.68" y2="224.59" stroke="#ee1c25" stroke-width="1.7"/><line x1="525.68" y1="194.46" x2="525.68" y2="224.59" stroke="#3a0508" stroke-width="0.9"/>
<line x1="491.34" y1="225.29" x2="524.98" y2="225.29" stroke="#ee1c25" stroke-width="1.7"/><line x1="491.34" y1="225.29" x2="524.98" y2="225.29" stroke="#3a0508" stroke-width="0.9"/>
<line x1="526.38" y1="225.29" x2="560.02" y2="225.29" stroke="#ee1c25" stroke-width="1.7"/><line x1="526.38" y1="225.29" x2="560.02" y2="225.29" stroke="#3a0508" stroke-width="0.9"/>
<line x1="490.64" y1="225.99" x2="490.64" y2="256.12" stroke="#ffe900" stroke-width="1.7"/><line x1="490.64" y1="225.99" x2="490.64" y2="256.12" stroke="#2c2600" stroke-width="0.9"/>
<line x1="456.30" y1="256.82" x2="489.94" y2="256.82" stroke="#ffe900" stroke-width="1.7"/><line x1="456.30" y1="256.82" x2="489.94" y2="256.82" stroke="#2c2600" stroke-width="0.9"/>
<line x1="525.68" y1="225.99" x2="525.68" y2="256.12" stroke="#ffe900" stroke-width="1.7"/><line x1="525.68" y1="225.99" x2="525.68" y2="256.12" stroke="#2c2600" stroke-width="0.9"/>
<line x1="491.34" y1="256.82" x2="524.98" y2="256.82" stroke="#ffe900" stroke-width="1.7"/><line x1="491.34" y1="256.82" x2="524.98" y2="256.82" stroke="#2c2600" stroke-width="0.9"/>
<line x1="526.38" y1="256.82" x2="560.02" y2="256.82" stroke="#ffe900" stroke-width="1.7"/><line x1="526.38" y1="256.82" x2="560.02" y2="256.82" stroke="#2c2600" stroke-width="0.9"/>
<line x1="490.64" y1="257.52" x2="490.64" y2="287.65" stroke="#ee1c25" stroke-width="1.7"/><line x1="490.64" y1="257.52" x2="490.64" y2="287.65" stroke="#3a0508" stroke-width="0.9"/>
<line x1="456.30" y1="288.35" x2="489.94" y2="288.35" stroke="#ee1c25" stroke-width="1.7"/><line x1="456.30" y1="288.35" x2="489.94" y2="288.35" stroke="#3a0508" stroke-width="0.9"/>
<line x1="525.68" y1="257.52" x2="525.68" y2="287.65" stroke="#ee1c25" stroke-width="1.7"/><line x1="525.68" y1="257.52" x2="525.68" y2="287.65" stroke="#3a0508" stroke-width="0.9"/>
<line x1="491.34" y1="288.35" x2="524.98" y2="288.35" stroke="#ee1c25" stroke-width="1.7"/><line x1="491.34" y1="288.35" x2="524.98" y2="288.35" stroke="#3a0508" stroke-width="0.9"/>
<line x1="526.38" y1="288.35" x2="560.02" y2="288.35" stroke="#ee1c25" stroke-width="1.7"/><line x1="526.38" y1="288.35" x2="560.02" y2="288.35" stroke="#3a0508" stroke-width="0.9"/>
<line x1="490.64" y1="289.05" x2="490.64" y2="319.18" stroke="#ffe900" stroke-width="1.7"/><line x1="490.64" y1="289.05" x2="490.64" y2="319.18" stroke="#2c2600" stroke-width="0.9"/>
<line x1="456.30" y1="319.88" x2="489.94" y2="319.88" stroke="#ffe900" stroke-width="1.7"/><line x1="456.30" y1="319.88" x2="489.94" y2="319.88" stroke="#2c2600" stroke-width="0.9"/>
<line x1="525.68" y1="289.05" x2="525.68" y2="319.18" stroke="#ffe900" stroke-width="1.7"/><line x1="525.68" y1="289.05" x2="525.68" y2="319.18" stroke="#2c2600" stroke-width="0.9"/>
<line x1="491.34" y1="319.88" x2="524.98" y2="319.88" stroke="#ffe900" stroke-width="1.7"/><line x1="491.34" y1="319.88" x2="524.98" y2="319.88" stroke="#2c2600" stroke-width="0.9"/>
<line x1="526.38" y1="319.88" x2="560.02" y2="319.88" stroke="#ffe900" stroke-width="1.7"/><line x1="526.38" y1="319.88" x2="560.02" y2="319.88" stroke="#2c2600" stroke-width="0.9"/>
<line x1="490.64" y1="320.58" x2="490.64" y2="350.71" stroke="#0b9444" stroke-width="1.7"/><line x1="490.64" y1="320.58" x2="490.64" y2="350.71" stroke="#04260f" stroke-width="0.9"/>
<line x1="456.30" y1="351.41" x2="489.94" y2="351.41" stroke="#0b9444" stroke-width="1.7"/><line x1="456.30" y1="351.41" x2="489.94" y2="351.41" stroke="#04260f" stroke-width="0.9"/>
<line x1="525.68" y1="320.58" x2="525.68" y2="350.71" stroke="#0b9444" stroke-width="1.7"/><line x1="525.68" y1="320.58" x2="525.68" y2="350.71" stroke="#04260f" stroke-width="0.9"/>
<line x1="491.34" y1="351.41" x2="524.98" y2="351.41" stroke="#0b9444" stroke-width="1.7"/><line x1="491.34" y1="351.41" x2="524.98" y2="351.41" stroke="#04260f" stroke-width="0.9"/>
<line x1="560.72" y1="320.58" x2="560.72" y2="350.71" stroke="#0b9444" stroke-width="1.7"/><line x1="560.72" y1="320.58" x2="560.72" y2="350.71" stroke="#04260f" stroke-width="0.9"/>
<line x1="526.38" y1="351.41" x2="560.02" y2="351.41" stroke="#0b9444" stroke-width="1.7"/><line x1="526.38" y1="351.41" x2="560.02" y2="351.41" stroke="#04260f" stroke-width="0.9"/>
<line x1="561.42" y1="351.41" x2="595.06" y2="351.41" stroke="#0b9444" stroke-width="1.7"/><line x1="561.42" y1="351.41" x2="595.06" y2="351.41" stroke="#04260f" stroke-width="0.9"/>
<line x1="736.62" y1="351.41" x2="770.26" y2="351.41" stroke="#0b9444" stroke-width="1.7"/><line x1="736.62" y1="351.41" x2="770.26" y2="351.41" stroke="#04260f" stroke-width="0.9"/>
<line x1="490.64" y1="352.11" x2="490.64" y2="382.24" stroke="#0b9444" stroke-width="1.7"/><line x1="490.64" y1="352.11" x2="490.64" y2="382.24" stroke="#04260f" stroke-width="0.9"/>
<line x1="456.30" y1="382.94" x2="489.94" y2="382.94" stroke="#0b9444" stroke-width="1.7"/><line x1="456.30" y1="382.94" x2="489.94" y2="382.94" stroke="#04260f" stroke-width="0.9"/>
<line x1="525.68" y1="352.11" x2="525.68" y2="382.24" stroke="#0b9444" stroke-width="1.7"/><line x1="525.68" y1="352.11" x2="525.68" y2="382.24" stroke="#04260f" stroke-width="0.9"/>
<line x1="491.34" y1="382.94" x2="524.98" y2="382.94" stroke="#0b9444" stroke-width="1.7"/><line x1="491.34" y1="382.94" x2="524.98" y2="382.94" stroke="#04260f" stroke-width="0.9"/>
<line x1="560.72" y1="352.11" x2="560.72" y2="382.24" stroke="#0b9444" stroke-width="1.7"/><line x1="560.72" y1="352.11" x2="560.72" y2="382.24" stroke="#04260f" stroke-width="0.9"/>
<line x1="526.38" y1="382.94" x2="560.02" y2="382.94" stroke="#0b9444" stroke-width="1.7"/><line x1="526.38" y1="382.94" x2="560.02" y2="382.94" stroke="#04260f" stroke-width="0.9"/>
<line x1="595.76" y1="352.11" x2="595.76" y2="382.24" stroke="#0b9444" stroke-width="1.7"/><line x1="595.76" y1="352.11" x2="595.76" y2="382.24" stroke="#04260f" stroke-width="0.9"/>
<line x1="561.42" y1="382.94" x2="595.06" y2="382.94" stroke="#0b9444" stroke-width="1.7"/><line x1="561.42" y1="382.94" x2="595.06" y2="382.94" stroke="#04260f" stroke-width="0.9"/>
<line x1="630.80" y1="352.11" x2="630.80" y2="382.24" stroke="#0b9444" stroke-width="1.7"/><line x1="630.80" y1="352.11" x2="630.80" y2="382.24" stroke="#04260f" stroke-width="0.9"/>
<line x1="596.46" y1="382.94" x2="630.10" y2="382.94" stroke="#0b9444" stroke-width="1.7"/><line x1="596.46" y1="382.94" x2="630.10" y2="382.94" stroke="#04260f" stroke-width="0.9"/>
<line x1="631.50" y1="382.94" x2="665.14" y2="382.94" stroke="#ffe900" stroke-width="1.7"/><line x1="631.50" y1="382.94" x2="665.14" y2="382.94" stroke="#2c2600" stroke-width="0.9"/>
<line x1="736.62" y1="382.94" x2="770.26" y2="382.94" stroke="#0b9444" stroke-width="1.7"/><line x1="736.62" y1="382.94" x2="770.26" y2="382.94" stroke="#04260f" stroke-width="0.9"/>
<line x1="490.64" y1="383.64" x2="490.64" y2="413.77" stroke="#0b9444" stroke-width="1.7"/><line x1="490.64" y1="383.64" x2="490.64" y2="413.77" stroke="#04260f" stroke-width="0.9"/>
<line x1="456.30" y1="414.47" x2="489.94" y2="414.47" stroke="#0b9444" stroke-width="1.7"/><line x1="456.30" y1="414.47" x2="489.94" y2="414.47" stroke="#04260f" stroke-width="0.9"/>
<line x1="525.68" y1="383.64" x2="525.68" y2="413.77" stroke="#0b9444" stroke-width="1.7"/><line x1="525.68" y1="383.64" x2="525.68" y2="413.77" stroke="#04260f" stroke-width="0.9"/>
<line x1="491.34" y1="414.47" x2="524.98" y2="414.47" stroke="#0b9444" stroke-width="1.7"/><line x1="491.34" y1="414.47" x2="524.98" y2="414.47" stroke="#04260f" stroke-width="0.9"/>
<line x1="560.72" y1="383.64" x2="560.72" y2="413.77" stroke="#0b9444" stroke-width="1.7"/><line x1="560.72" y1="383.64" x2="560.72" y2="413.77" stroke="#04260f" stroke-width="0.9"/>
<line x1="526.38" y1="414.47" x2="560.02" y2="414.47" stroke="#0b9444" stroke-width="1.7"/><line x1="526.38" y1="414.47" x2="560.02" y2="414.47" stroke="#04260f" stroke-width="0.9"/>
<line x1="595.76" y1="383.64" x2="595.76" y2="413.77" stroke="#0b9444" stroke-width="1.7"/><line x1="595.76" y1="383.64" x2="595.76" y2="413.77" stroke="#04260f" stroke-width="0.9"/>
<line x1="561.42" y1="414.47" x2="595.06" y2="414.47" stroke="#0b9444" stroke-width="1.7"/><line x1="561.42" y1="414.47" x2="595.06" y2="414.47" stroke="#04260f" stroke-width="0.9"/>
<line x1="630.80" y1="383.64" x2="630.80" y2="413.77" stroke="#0b9444" stroke-width="1.7"/><line x1="630.80" y1="383.64" x2="630.80" y2="413.77" stroke="#04260f" stroke-width="0.9"/>
<line x1="596.46" y1="414.47" x2="630.10" y2="414.47" stroke="#0b9444" stroke-width="1.7"/><line x1="596.46" y1="414.47" x2="630.10" y2="414.47" stroke="#04260f" stroke-width="0.9"/>
<line x1="665.84" y1="383.64" x2="665.84" y2="413.77" stroke="#0b9444" stroke-width="1.7"/><line x1="665.84" y1="383.64" x2="665.84" y2="413.77" stroke="#04260f" stroke-width="0.9"/>
<line x1="631.50" y1="414.47" x2="665.14" y2="414.47" stroke="#0b9444" stroke-width="1.7"/><line x1="631.50" y1="414.47" x2="665.14" y2="414.47" stroke="#04260f" stroke-width="0.9"/>
<line x1="700.88" y1="383.64" x2="700.88" y2="413.77" stroke="#0b9444" stroke-width="1.7"/><line x1="700.88" y1="383.64" x2="700.88" y2="413.77" stroke="#04260f" stroke-width="0.9"/>
<line x1="666.54" y1="414.47" x2="700.18" y2="414.47" stroke="#0b9444" stroke-width="1.7"/><line x1="666.54" y1="414.47" x2="700.18" y2="414.47" stroke="#04260f" stroke-width="0.9"/>
<line x1="735.92" y1="383.64" x2="735.92" y2="413.77" stroke="#0b9444" stroke-width="1.7"/><line x1="735.92" y1="383.64" x2="735.92" y2="413.77" stroke="#04260f" stroke-width="0.9"/>
<line x1="701.58" y1="414.47" x2="735.22" y2="414.47" stroke="#0b9444" stroke-width="1.7"/><line x1="701.58" y1="414.47" x2="735.22" y2="414.47" stroke="#04260f" stroke-width="0.9"/>
<line x1="490.64" y1="415.17" x2="490.64" y2="445.30" stroke="#0b9444" stroke-width="1.7"/><line x1="490.64" y1="415.17" x2="490.64" y2="445.30" stroke="#04260f" stroke-width="0.9"/>
<line x1="525.68" y1="415.17" x2="525.68" y2="445.30" stroke="#0b9444" stroke-width="1.7"/><line x1="525.68" y1="415.17" x2="525.68" y2="445.30" stroke="#04260f" stroke-width="0.9"/>
<line x1="560.72" y1="415.17" x2="560.72" y2="445.30" stroke="#0b9444" stroke-width="1.7"/><line x1="560.72" y1="415.17" x2="560.72" y2="445.30" stroke="#04260f" stroke-width="0.9"/>
<line x1="595.76" y1="415.17" x2="595.76" y2="445.30" stroke="#0b9444" stroke-width="1.7"/><line x1="595.76" y1="415.17" x2="595.76" y2="445.30" stroke="#04260f" stroke-width="0.9"/>
<line x1="630.80" y1="415.17" x2="630.80" y2="445.30" stroke="#0b9444" stroke-width="1.7"/><line x1="630.80" y1="415.17" x2="630.80" y2="445.30" stroke="#04260f" stroke-width="0.9"/>
<line x1="665.84" y1="415.17" x2="665.84" y2="445.30" stroke="#0b9444" stroke-width="1.7"/><line x1="665.84" y1="415.17" x2="665.84" y2="445.30" stroke="#04260f" stroke-width="0.9"/>
<line x1="700.88" y1="415.17" x2="700.88" y2="445.30" stroke="#0b9444" stroke-width="1.7"/><line x1="700.88" y1="415.17" x2="700.88" y2="445.30" stroke="#04260f" stroke-width="0.9"/>
<text x="473.42" y="149.41" font-size="8.2" font-weight="bold" text-anchor="middle" word-spacing="1.0" fill="#1e1e1e">15 - 10</text>
<text x="508.46" y="149.41" font-size="8.2" font-weight="bold" text-anchor="middle" word-spacing="1.0" fill="#1e1e1e">7 - 2</text>
<text x="543.50" y="149.41" font-size="8.2" font-weight="bold" text-anchor="middle" word-spacing="1.0" fill="#1e1e1e">5 - 3</text>
<text x="473.42" y="180.94" font-size="8.2" font-weight="bold" text-anchor="middle" word-spacing="1.0" fill="#1e1e1e">20 - 8</text>
<text x="508.46" y="180.94" font-size="8.2" font-weight="bold" text-anchor="middle" word-spacing="1.0" fill="#1e1e1e">15 - 4</text>
<text x="543.50" y="180.94" font-size="8.2" font-weight="bold" text-anchor="middle" word-spacing="1.0" fill="#1e1e1e">10 - 3</text>
<text x="473.42" y="212.47" font-size="8.2" font-weight="bold" text-anchor="middle" word-spacing="1.0" fill="#1e1e1e">6 - 3</text>
<text x="508.46" y="212.47" font-size="8.2" font-weight="bold" text-anchor="middle" word-spacing="1.0" fill="#1e1e1e">10 - 5</text>
<text x="543.50" y="212.47" font-size="8.2" font-weight="bold" text-anchor="middle" word-spacing="1.0" fill="#1e1e1e">7 - 4</text>
<text x="473.42" y="244.00" font-size="8.2" font-weight="bold" text-anchor="middle" word-spacing="1.0" fill="#1e1e1e">10 - 1</text>
<text x="508.46" y="244.00" font-size="8.2" font-weight="bold" text-anchor="middle" word-spacing="1.0" fill="#1e1e1e">12 - 4</text>
<text x="543.50" y="244.00" font-size="8.2" font-weight="bold" text-anchor="middle" word-spacing="1.0" fill="#1e1e1e">10 + 4</text>
<text x="473.42" y="275.53" font-size="8.2" font-weight="bold" text-anchor="middle" word-spacing="1.0" fill="#1e1e1e">8 + 5</text>
<text x="508.46" y="275.53" font-size="8.2" font-weight="bold" text-anchor="middle" word-spacing="1.0" fill="#1e1e1e">4 + 2</text>
<text x="543.50" y="275.53" font-size="8.2" font-weight="bold" text-anchor="middle" word-spacing="1.0" fill="#1e1e1e">3 + 1</text>
<text x="473.42" y="307.06" font-size="8.2" font-weight="bold" text-anchor="middle" word-spacing="1.0" fill="#1e1e1e">18 - 8</text>
<text x="508.46" y="307.06" font-size="8.2" font-weight="bold" text-anchor="middle" word-spacing="1.0" fill="#1e1e1e">10 - 2</text>
<text x="543.50" y="307.06" font-size="8.2" font-weight="bold" text-anchor="middle" word-spacing="1.0" fill="#1e1e1e">13 - 6</text>
<text x="718.70" y="307.06" font-size="8.2" font-weight="bold" text-anchor="middle" word-spacing="1.0" fill="#1e1e1e">20 - 2</text>
<text x="473.42" y="338.59" font-size="8.2" font-weight="bold" text-anchor="middle" word-spacing="1.0" fill="#1e1e1e">20 - 7</text>
<text x="508.46" y="338.59" font-size="8.2" font-weight="bold" text-anchor="middle" word-spacing="1.0" fill="#1e1e1e">19 - 1</text>
<text x="543.50" y="338.59" font-size="8.2" font-weight="bold" text-anchor="middle" word-spacing="1.0" fill="#1e1e1e">19 - 6</text>
<text x="578.54" y="338.59" font-size="8.2" font-weight="bold" text-anchor="middle" word-spacing="1.0" fill="#1e1e1e">20 - 5</text>
<text x="683.66" y="338.59" font-size="8.2" font-weight="bold" text-anchor="middle" word-spacing="1.0" fill="#1e1e1e">18 - 3</text>
<text x="753.74" y="338.59" font-size="8.2" font-weight="bold" text-anchor="middle" word-spacing="1.0" fill="#1e1e1e">19 - 2</text>
<text x="473.42" y="370.12" font-size="8.2" font-weight="bold" text-anchor="middle" word-spacing="1.0" fill="#1e1e1e">18 - 5</text>
<text x="508.46" y="370.12" font-size="8.2" font-weight="bold" text-anchor="middle" word-spacing="1.0" fill="#1e1e1e">19 - 5</text>
<text x="543.50" y="370.12" font-size="8.2" font-weight="bold" text-anchor="middle" word-spacing="1.0" fill="#1e1e1e">14 - 1</text>
<text x="578.54" y="370.12" font-size="8.2" font-weight="bold" text-anchor="middle" word-spacing="1.0" fill="#1e1e1e">18 - 2</text>
<text x="613.58" y="370.12" font-size="8.2" font-weight="bold" text-anchor="middle" word-spacing="1.0" fill="#1e1e1e">16 - 1</text>
<text x="648.62" y="370.12" font-size="8.2" font-weight="bold" text-anchor="middle" word-spacing="1.0" fill="#1e1e1e">19 - 8</text>
<text x="753.74" y="370.12" font-size="8.2" font-weight="bold" text-anchor="middle" word-spacing="1.0" fill="#1e1e1e">17 - 2</text>
<text x="473.42" y="401.65" font-size="8.2" font-weight="bold" text-anchor="middle" word-spacing="1.0" fill="#1e1e1e">20 - 6</text>
<text x="508.46" y="401.65" font-size="8.2" font-weight="bold" text-anchor="middle" word-spacing="1.0" fill="#1e1e1e">18 - 1</text>
<text x="543.50" y="401.65" font-size="8.2" font-weight="bold" text-anchor="middle" word-spacing="1.0" fill="#1e1e1e">16 - 1</text>
<text x="578.54" y="401.65" font-size="8.2" font-weight="bold" text-anchor="middle" word-spacing="1.0" fill="#1e1e1e">19 - 6</text>
<text x="613.58" y="401.65" font-size="8.2" font-weight="bold" text-anchor="middle" word-spacing="1.0" fill="#1e1e1e">20 - 3</text>
<text x="648.62" y="401.65" font-size="8.2" font-weight="bold" text-anchor="middle" word-spacing="1.0" fill="#1e1e1e">18 - 4</text>
<text x="683.66" y="401.65" font-size="8.2" font-weight="bold" text-anchor="middle" word-spacing="1.0" fill="#1e1e1e">19 - 5</text>
<text x="718.70" y="401.65" font-size="8.2" font-weight="bold" text-anchor="middle" word-spacing="1.0" fill="#1e1e1e">15 - 1</text>
<text x="753.74" y="401.65" font-size="8.2" font-weight="bold" text-anchor="middle" word-spacing="1.0" fill="#1e1e1e">20 - 1</text>
<text x="473.42" y="433.18" font-size="8.2" font-weight="bold" text-anchor="middle" word-spacing="1.0" fill="#1e1e1e">18 - 3</text>
<text x="508.46" y="433.18" font-size="8.2" font-weight="bold" text-anchor="middle" word-spacing="1.0" fill="#1e1e1e">15 - 2</text>
<text x="543.50" y="433.18" font-size="8.2" font-weight="bold" text-anchor="middle" word-spacing="1.0" fill="#1e1e1e">20 - 4</text>
<text x="578.54" y="433.18" font-size="8.2" font-weight="bold" text-anchor="middle" word-spacing="1.0" fill="#1e1e1e">15 - 1</text>
<text x="613.58" y="433.18" font-size="8.2" font-weight="bold" text-anchor="middle" word-spacing="1.0" fill="#1e1e1e">13 - 0</text>
<text x="648.62" y="433.18" font-size="8.2" font-weight="bold" text-anchor="middle" word-spacing="1.0" fill="#1e1e1e">19 - 1</text>
<text x="683.66" y="433.18" font-size="8.2" font-weight="bold" text-anchor="middle" word-spacing="1.0" fill="#1e1e1e">16 - 2</text>
<text x="718.70" y="433.18" font-size="8.2" font-weight="bold" text-anchor="middle" word-spacing="1.0" fill="#1e1e1e">16 - 3</text>
<text x="455.5" y="461.3" font-size="9.2" fill="#111" textLength="291" lengthAdjust="spacingAndGlyphs"><tspan font-weight="bold">Challenge:</tspan> <tspan stroke="#111" stroke-width=".2">Write the related subtraction number sentences next to the</tspan></text>
<text x="455.5" y="473.7" font-size="9.2" fill="#111" stroke="#111" stroke-width=".2" textLength="93.2" lengthAdjust="spacingAndGlyphs">following calculations:</text>
<text x="455.60" y="490.90" font-size="8.8" fill="#111" textLength="38.80" lengthAdjust="spacingAndGlyphs" stroke="#111" stroke-width=".3">5 + 4 = 9</text>
<text x="455.60" y="502.90" font-size="8.8" font-weight="bold" fill="#111" textLength="37.60" lengthAdjust="spacingAndGlyphs">9 - 4 = 5</text>
<text x="455.60" y="515.10" font-size="8.8" font-weight="bold" fill="#111" textLength="37.60" lengthAdjust="spacingAndGlyphs">9 - 5 = 4</text>
<text x="563.00" y="490.90" font-size="8.8" fill="#111" textLength="50.20" lengthAdjust="spacingAndGlyphs" stroke="#111" stroke-width=".3">12 + 8 = 20</text>
<text x="563.00" y="502.90" font-size="8.8" font-weight="bold" fill="#111" textLength="49.40" lengthAdjust="spacingAndGlyphs">20 - 8 = 12</text>
<text x="563.00" y="515.10" font-size="8.8" font-weight="bold" fill="#111" textLength="49.40" lengthAdjust="spacingAndGlyphs">20 - 12 = 8</text>
<text x="671.40" y="490.90" font-size="8.8" fill="#111" textLength="49.60" lengthAdjust="spacingAndGlyphs" stroke="#111" stroke-width=".3">16 + 3 = 19</text>
<text x="671.40" y="502.90" font-size="8.8" font-weight="bold" fill="#111" textLength="48.80" lengthAdjust="spacingAndGlyphs">19 - 3 = 16</text>
<text x="671.40" y="515.10" font-size="8.8" font-weight="bold" fill="#111" textLength="48.80" lengthAdjust="spacingAndGlyphs">19 - 16 = 3</text>
<line x1="455.50" y1="524.5" x2="771.30" y2="524.5" stroke="#0a0a0a" stroke-width="1.7"/>
<g transform="translate(455.20,527.50)" fill="#000">
<ellipse cx="12.4" cy="8.2" rx="11.4" ry="5.6"/><circle cx="16" cy="4" r="4"/><circle cx="24.2" cy="5.6" r="3.2"/><circle cx="9.8" cy="12.8" r="3.5"/><circle cx="16.5" cy="11.4" r="3.6"/><circle cx="3.8" cy="7.8" r="3.8"/><circle cx="10" cy="4.6" r="3.4"/><circle cx="21.5" cy="8.6" r="3.6"/>
<text x="4.0" y="10.4" font-size="6.8" font-weight="bold" font-style="italic" fill="#fff" textLength="18.0" lengthAdjust="spacingAndGlyphs">twinkl</text>
</g>
<text x="717.70" y="536.30" font-size="4.4" font-weight="bold" fill="#000" textLength="31.60" lengthAdjust="spacingAndGlyphs" stroke="#000" stroke-width=".35">visit twinkl.com</text>
<g transform="translate(752.70,527.70)">
<rect x="0.3" y="0.3" width="18.4" height="17.6" rx="1.2" fill="#fff" stroke="#bdbdbd" stroke-width=".6"/>
<g fill="#000"><ellipse cx="9.6" cy="5.6" rx="8.2" ry="3.6"/><circle cx="10.4" cy="2.9" r="2.5"/><circle cx="15.2" cy="4.2" r="2.2"/><circle cx="7" cy="8.4" r="2.2"/><circle cx="11.6" cy="8" r="2.3"/><circle cx="3.4" cy="5.4" r="2.4"/><circle cx="6.6" cy="3.4" r="2.2"/></g>
<rect x="4.6" y="4.2" width="10" height="2.3" rx="1" fill="#fff" opacity=".85"/>
<g stroke="#555" stroke-width=".9"><line x1="2.2" y1="12" x2="8" y2="12"/><line x1="9.8" y1="12" x2="16.4" y2="12"/><line x1="5.6" y1="14.8" x2="13.6" y2="14.8"/></g>
<line x1="15.4" y1="16.6" x2="19.2" y2="13.2" stroke="#000" stroke-width="1.7" stroke-linecap="round"/>
</g>
<rect x="880" y="67.0" width="353.40" height="494.00" fill="#fff" filter="url(#sh)"/>
<path d="M1216.60,167.20V483.20M1196.60,167.20H1216.60M1196.60,198.80H1216.60M1196.60,230.40H1216.60M1196.60,262.00H1216.60M1196.60,293.60H1216.60M1196.60,325.20H1216.60M1196.60,356.80H1216.60M1196.60,388.40H1216.60M1196.60,420.00H1216.60M1196.60,451.60H1216.60M1196.60,483.20H1216.60" stroke="#000" stroke-width="1.3" fill="none" stroke-linecap="square"/>
<text x="1198.00" y="118.20" font-size="8" font-weight="bold" fill="#111">s</text>
<line x1="1196.6" y1="524.5" x2="1216.90" y2="524.5" stroke="#0a0a0a" stroke-width="1.7"/>
<g transform="translate(1198.00,527.70)">
<rect x="0.3" y="0.3" width="18.4" height="17.6" rx="1.2" fill="#fff" stroke="#bdbdbd" stroke-width=".6"/>
<g fill="#000"><ellipse cx="9.6" cy="5.6" rx="8.2" ry="3.6"/><circle cx="10.4" cy="2.9" r="2.5"/><circle cx="15.2" cy="4.2" r="2.2"/><circle cx="7" cy="8.4" r="2.2"/><circle cx="11.6" cy="8" r="2.3"/><circle cx="3.4" cy="5.4" r="2.4"/><circle cx="6.6" cy="3.4" r="2.2"/></g>
<rect x="4.6" y="4.2" width="10" height="2.3" rx="1" fill="#fff" opacity=".85"/>
<g stroke="#555" stroke-width=".9"><line x1="2.2" y1="12" x2="8" y2="12"/><line x1="9.8" y1="12" x2="16.4" y2="12"/><line x1="5.6" y1="14.8" x2="13.6" y2="14.8"/></g>
<line x1="15.4" y1="16.6" x2="19.2" y2="13.2" stroke="#000" stroke-width="1.7" stroke-linecap="round"/>
</g>
<rect x="848.2" y="67.0" width="350.40" height="493.60" fill="#fff" filter="url(#sh2)"/>
<line x1="848.2" y1="66.55" x2="1199.6" y2="66.55" stroke="#000" stroke-width=".9" opacity=".75"/>
<rect x="1198.6" y="67.0" width="8" height="493.60" fill="url(#es)"/>
<text x="894.50" y="100.20" font-size="16.8" fill="#111" textLength="258.40" lengthAdjust="spacingAndGlyphs" stroke="#111" stroke-width=".4">Christmas Addition and Subtraction</text>
<text x="949.40" y="118.50" font-size="16.8" fill="#111" textLength="81.20" lengthAdjust="spacingAndGlyphs" stroke="#111" stroke-width=".4">Facts to 20</text>
<text x="1036.20" y="118.50" font-size="16.8" font-weight="bold" fill="#111" textLength="61.70" lengthAdjust="spacingAndGlyphs" stroke="#111" stroke-width=".25">Answers</text>
<text x="917.60" y="135.70" font-size="10.2" font-weight="bold" fill="#111" stroke="#111" stroke-width=".2" textLength="50.20" lengthAdjust="spacingAndGlyphs">red = <tspan font-weight="normal" stroke="#111" stroke-width=".55">0 to 5</tspan></text>
<text x="910.60" y="149.60" font-size="10.2" font-weight="bold" fill="#111" stroke="#111" stroke-width=".2" textLength="64.80" lengthAdjust="spacingAndGlyphs">black = <tspan font-weight="normal" stroke="#111" stroke-width=".55">6 to 10</tspan></text>
<text x="1072.00" y="135.70" font-size="10.2" font-weight="bold" fill="#111" stroke="#111" stroke-width=".2" textLength="64.80" lengthAdjust="spacingAndGlyphs">blue = <tspan font-weight="normal" stroke="#111" stroke-width=".55">11 to 15</tspan></text>
<text x="1050.05" y="149.60" font-size="10.2" font-weight="bold" fill="#111" stroke="#111" stroke-width=".2" textLength="108.50" lengthAdjust="spacingAndGlyphs">yellow or gold = <tspan font-weight="normal" stroke="#111" stroke-width=".55">16 to 20</tspan></text>
<rect x="865.60" y="165.50" width="35.07" height="29.45" fill="#ee1c25"/>
<rect x="900.67" y="165.50" width="35.07" height="29.45" fill="#ee1c25"/>
<rect x="935.74" y="165.50" width="35.07" height="29.45" fill="#ee1c25"/>
<rect x="865.60" y="194.95" width="35.07" height="29.45" fill="#ee1c25"/>
<rect x="900.67" y="194.95" width="35.07" height="29.45" fill="#ee1c25"/>
<rect x="935.74" y="194.95" width="35.07" height="29.45" fill="#ee1c25"/>
<rect x="865.60" y="224.40" width="35.07" height="29.45" fill="#ee1c25"/>
<rect x="900.67" y="224.40" width="35.07" height="29.45" fill="#ee1c25"/>
<rect x="935.74" y="224.40" width="35.07" height="29.45" fill="#ee1c25"/>
<rect x="1040.95" y="224.40" width="35.07" height="29.45" fill="#fdb414"/>
<rect x="1111.09" y="224.40" width="35.07" height="29.45" fill="#fdb414"/>
<rect x="865.60" y="253.85" width="35.07" height="29.45" fill="#ee1c25"/>
<rect x="900.67" y="253.85" width="35.07" height="29.45" fill="#ee1c25"/>
<rect x="935.74" y="253.85" width="35.07" height="29.45" fill="#ee1c25"/>
<rect x="1005.88" y="253.85" width="35.07" height="29.45" fill="#fdb414"/>
<rect x="1076.02" y="253.85" width="35.07" height="29.45" fill="#fdb414"/>
<rect x="1146.16" y="253.85" width="35.07" height="29.45" fill="#fdb414"/>
<rect x="865.60" y="283.30" width="35.07" height="29.45" fill="#ee1c25"/>
<rect x="900.67" y="283.30" width="35.07" height="29.45" fill="#ee1c25"/>
<rect x="935.74" y="283.30" width="35.07" height="29.45" fill="#ee1c25"/>
<rect x="1040.95" y="283.30" width="35.07" height="29.45" fill="#fdb414"/>
<rect x="1076.02" y="283.30" width="35.07" height="29.45" fill="#fdb414"/>
<rect x="1111.09" y="283.30" width="35.07" height="29.45" fill="#fdb414"/>
<rect x="1005.88" y="312.75" width="35.07" height="29.45" fill="#1ba1e2"/>
<rect x="1040.95" y="312.75" width="35.07" height="29.45" fill="#1ba1e2"/>
<rect x="1076.02" y="312.75" width="35.07" height="29.45" fill="#fdb414"/>
<rect x="1111.09" y="312.75" width="35.07" height="29.45" fill="#1ba1e2"/>
<rect x="1146.16" y="312.75" width="35.07" height="29.45" fill="#1ba1e2"/>
<rect x="865.60" y="342.20" width="35.07" height="29.45" fill="#262626"/>
<rect x="900.67" y="342.20" width="35.07" height="29.45" fill="#262626"/>
<rect x="935.74" y="342.20" width="35.07" height="29.45" fill="#262626"/>
<rect x="1005.88" y="342.20" width="35.07" height="29.45" fill="#1ba1e2"/>
<rect x="1040.95" y="342.20" width="35.07" height="29.45" fill="#1ba1e2"/>
<rect x="1076.02" y="342.20" width="35.07" height="29.45" fill="#fdb414"/>
<rect x="1111.09" y="342.20" width="35.07" height="29.45" fill="#1ba1e2"/>
<rect x="1146.16" y="342.20" width="35.07" height="29.45" fill="#1ba1e2"/>
<rect x="865.60" y="371.65" width="35.07" height="29.45" fill="#262626"/>
<rect x="900.67" y="371.65" width="35.07" height="29.45" fill="#262626"/>
<rect x="935.74" y="371.65" width="35.07" height="29.45" fill="#262626"/>
<rect x="1005.88" y="371.65" width="35.07" height="29.45" fill="#1ba1e2"/>
<rect x="1040.95" y="371.65" width="35.07" height="29.45" fill="#1ba1e2"/>
<rect x="1076.02" y="371.65" width="35.07" height="29.45" fill="#fdb414"/>
<rect x="1111.09" y="371.65" width="35.07" height="29.45" fill="#1ba1e2"/>
<rect x="1146.16" y="371.65" width="35.07" height="29.45" fill="#1ba1e2"/>
<rect x="865.60" y="401.10" width="35.07" height="29.45" fill="#262626"/>
<rect x="900.67" y="401.10" width="35.07" height="29.45" fill="#262626"/>
<rect x="935.74" y="401.10" width="35.07" height="29.45" fill="#262626"/>
<rect x="970.81" y="401.10" width="35.07" height="29.45" fill="#262626"/>
<rect x="1005.88" y="401.10" width="35.07" height="29.45" fill="#1ba1e2"/>
<rect x="1040.95" y="401.10" width="35.07" height="29.45" fill="#1ba1e2"/>
<rect x="1076.02" y="401.10" width="35.07" height="29.45" fill="#fdb414"/>
<rect x="1111.09" y="401.10" width="35.07" height="29.45" fill="#1ba1e2"/>
<rect x="1146.16" y="401.10" width="35.07" height="29.45" fill="#1ba1e2"/>
<rect x="865.60" y="430.55" width="35.07" height="29.45" fill="#262626"/>
<rect x="900.67" y="430.55" width="35.07" height="29.45" fill="#262626"/>
<rect x="935.74" y="430.55" width="35.07" height="29.45" fill="#262626"/>
<rect x="970.81" y="430.55" width="35.07" height="29.45" fill="#262626"/>
<rect x="1005.88" y="430.55" width="35.07" height="29.45" fill="#1ba1e2"/>
<rect x="1040.95" y="430.55" width="35.07" height="29.45" fill="#1ba1e2"/>
<rect x="1076.02" y="430.55" width="35.07" height="29.45" fill="#fdb414"/>
<rect x="1111.09" y="430.55" width="35.07" height="29.45" fill="#1ba1e2"/>
<rect x="1146.16" y="430.55" width="35.07" height="29.45" fill="#1ba1e2"/>
<path d="M865.60,165.50V460.00M900.67,165.50V460.00M935.74,165.50V460.00M970.81,165.50V460.00M1005.88,165.50V460.00M1040.95,165.50V460.00M1076.02,165.50V460.00M1111.09,165.50V460.00M1146.16,165.50V460.00M1181.23,165.50V460.00M865.60,165.50H1181.23M865.60,194.95H1181.23M865.60,224.40H1181.23M865.60,253.85H1181.23M865.60,283.30H1181.23M865.60,312.75H1181.23M865.60,342.20H1181.23M865.60,371.65H1181.23M865.60,401.10H1181.23M865.60,430.55H1181.23M865.60,460.00H1181.23" stroke="#000" stroke-width="1.3" fill="none" stroke-linecap="square"/>
<rect x="864.60" y="341.20" width="37.07" height="31.45" fill="#050505"/>
<rect x="899.67" y="341.20" width="37.07" height="31.45" fill="#050505"/>
<rect x="934.74" y="341.20" width="37.07" height="31.45" fill="#050505"/>
<rect x="864.60" y="370.65" width="37.07" height="31.45" fill="#050505"/>
<rect x="899.67" y="370.65" width="37.07" height="31.45" fill="#050505"/>
<rect x="934.74" y="370.65" width="37.07" height="31.45" fill="#050505"/>
<rect x="864.60" y="400.10" width="37.07" height="31.45" fill="#050505"/>
<rect x="899.67" y="400.10" width="37.07" height="31.45" fill="#050505"/>
<rect x="934.74" y="400.10" width="37.07" height="31.45" fill="#050505"/>
<rect x="969.81" y="400.10" width="37.07" height="31.45" fill="#050505"/>
<rect x="864.60" y="429.55" width="37.07" height="31.45" fill="#050505"/>
<rect x="899.67" y="429.55" width="37.07" height="31.45" fill="#050505"/>
<rect x="934.74" y="429.55" width="37.07" height="31.45" fill="#050505"/>
<rect x="969.81" y="429.55" width="37.07" height="31.45" fill="#050505"/>
<line x1="900.67" y1="166.20" x2="900.67" y2="194.25" stroke="#ee1c25" stroke-width="1.7"/><line x1="900.67" y1="166.20" x2="900.67" y2="194.25" stroke="#3a0508" stroke-width="0.9"/>
<line x1="866.30" y1="194.95" x2="899.97" y2="194.95" stroke="#ee1c25" stroke-width="1.7"/><line x1="866.30" y1="194.95" x2="899.97" y2="194.95" stroke="#3a0508" stroke-width="0.9"/>
<line x1="935.74" y1="166.20" x2="935.74" y2="194.25" stroke="#ee1c25" stroke-width="1.7"/><line x1="935.74" y1="166.20" x2="935.74" y2="194.25" stroke="#3a0508" stroke-width="0.9"/>
<line x1="901.37" y1="194.95" x2="935.04" y2="194.95" stroke="#ee1c25" stroke-width="1.7"/><line x1="901.37" y1="194.95" x2="935.04" y2="194.95" stroke="#3a0508" stroke-width="0.9"/>
<line x1="936.44" y1="194.95" x2="970.11" y2="194.95" stroke="#ee1c25" stroke-width="1.7"/><line x1="936.44" y1="194.95" x2="970.11" y2="194.95" stroke="#3a0508" stroke-width="0.9"/>
<line x1="900.67" y1="195.65" x2="900.67" y2="223.70" stroke="#ee1c25" stroke-width="1.7"/><line x1="900.67" y1="195.65" x2="900.67" y2="223.70" stroke="#3a0508" stroke-width="0.9"/>
<line x1="866.30" y1="224.40" x2="899.97" y2="224.40" stroke="#ee1c25" stroke-width="1.7"/><line x1="866.30" y1="224.40" x2="899.97" y2="224.40" stroke="#3a0508" stroke-width="0.9"/>
<line x1="935.74" y1="195.65" x2="935.74" y2="223.70" stroke="#ee1c25" stroke-width="1.7"/><line x1="935.74" y1="195.65" x2="935.74" y2="223.70" stroke="#3a0508" stroke-width="0.9"/>
<line x1="901.37" y1="224.40" x2="935.04" y2="224.40" stroke="#ee1c25" stroke-width="1.7"/><line x1="901.37" y1="224.40" x2="935.04" y2="224.40" stroke="#3a0508" stroke-width="0.9"/>
<line x1="936.44" y1="224.40" x2="970.11" y2="224.40" stroke="#ee1c25" stroke-width="1.7"/><line x1="936.44" y1="224.40" x2="970.11" y2="224.40" stroke="#3a0508" stroke-width="0.9"/>
<line x1="900.67" y1="225.10" x2="900.67" y2="253.15" stroke="#ee1c25" stroke-width="1.7"/><line x1="900.67" y1="225.10" x2="900.67" y2="253.15" stroke="#3a0508" stroke-width="0.9"/>
<line x1="866.30" y1="253.85" x2="899.97" y2="253.85" stroke="#ee1c25" stroke-width="1.7"/><line x1="866.30" y1="253.85" x2="899.97" y2="253.85" stroke="#3a0508" stroke-width="0.9"/>
<line x1="935.74" y1="225.10" x2="935.74" y2="253.15" stroke="#ee1c25" stroke-width="1.7"/><line x1="935.74" y1="225.10" x2="935.74" y2="253.15" stroke="#3a0508" stroke-width="0.9"/>
<line x1="901.37" y1="253.85" x2="935.04" y2="253.85" stroke="#ee1c25" stroke-width="1.7"/><line x1="901.37" y1="253.85" x2="935.04" y2="253.85" stroke="#3a0508" stroke-width="0.9"/>
<line x1="936.44" y1="253.85" x2="970.11" y2="253.85" stroke="#ee1c25" stroke-width="1.7"/><line x1="936.44" y1="253.85" x2="970.11" y2="253.85" stroke="#3a0508" stroke-width="0.9"/>
<line x1="900.67" y1="254.55" x2="900.67" y2="282.60" stroke="#ee1c25" stroke-width="1.7"/><line x1="900.67" y1="254.55" x2="900.67" y2="282.60" stroke="#3a0508" stroke-width="0.9"/>
<line x1="866.30" y1="283.30" x2="899.97" y2="283.30" stroke="#ee1c25" stroke-width="1.7"/><line x1="866.30" y1="283.30" x2="899.97" y2="283.30" stroke="#3a0508" stroke-width="0.9"/>
<line x1="935.74" y1="254.55" x2="935.74" y2="282.60" stroke="#ee1c25" stroke-width="1.7"/><line x1="935.74" y1="254.55" x2="935.74" y2="282.60" stroke="#3a0508" stroke-width="0.9"/>
<line x1="901.37" y1="283.30" x2="935.04" y2="283.30" stroke="#ee1c25" stroke-width="1.7"/><line x1="901.37" y1="283.30" x2="935.04" y2="283.30" stroke="#3a0508" stroke-width="0.9"/>
<line x1="936.44" y1="283.30" x2="970.11" y2="283.30" stroke="#ee1c25" stroke-width="1.7"/><line x1="936.44" y1="283.30" x2="970.11" y2="283.30" stroke="#3a0508" stroke-width="0.9"/>
<line x1="1076.72" y1="283.30" x2="1110.39" y2="283.30" stroke="#fdb414" stroke-width="1.7"/><line x1="1076.72" y1="283.30" x2="1110.39" y2="283.30" stroke="#5a1005" stroke-width="0.9"/>
<line x1="900.67" y1="284.00" x2="900.67" y2="312.05" stroke="#ee1c25" stroke-width="1.7"/><line x1="900.67" y1="284.00" x2="900.67" y2="312.05" stroke="#3a0508" stroke-width="0.9"/>
<line x1="935.74" y1="284.00" x2="935.74" y2="312.05" stroke="#ee1c25" stroke-width="1.7"/><line x1="935.74" y1="284.00" x2="935.74" y2="312.05" stroke="#3a0508" stroke-width="0.9"/>
<line x1="1076.02" y1="284.00" x2="1076.02" y2="312.05" stroke="#fdb414" stroke-width="1.7"/><line x1="1076.02" y1="284.00" x2="1076.02" y2="312.05" stroke="#5a1005" stroke-width="0.9"/>
<line x1="1041.65" y1="312.75" x2="1075.32" y2="312.75" stroke="#fdb414" stroke-width="1.7"/><line x1="1041.65" y1="312.75" x2="1075.32" y2="312.75" stroke="#5a1005" stroke-width="0.9"/>
<line x1="1111.09" y1="284.00" x2="1111.09" y2="312.05" stroke="#fdb414" stroke-width="1.7"/><line x1="1111.09" y1="284.00" x2="1111.09" y2="312.05" stroke="#5a1005" stroke-width="0.9"/>
<line x1="1076.72" y1="312.75" x2="1110.39" y2="312.75" stroke="#fdb414" stroke-width="1.7"/><line x1="1076.72" y1="312.75" x2="1110.39" y2="312.75" stroke="#5a1005" stroke-width="0.9"/>
<line x1="1111.79" y1="312.75" x2="1145.46" y2="312.75" stroke="#fdb414" stroke-width="1.7"/><line x1="1111.79" y1="312.75" x2="1145.46" y2="312.75" stroke="#5a1005" stroke-width="0.9"/>
<line x1="1040.95" y1="313.45" x2="1040.95" y2="341.50" stroke="#1ba1e2" stroke-width="1.7"/><line x1="1040.95" y1="313.45" x2="1040.95" y2="341.50" stroke="#06263c" stroke-width="0.9"/>
<line x1="1006.58" y1="342.20" x2="1040.25" y2="342.20" stroke="#1ba1e2" stroke-width="1.7"/><line x1="1006.58" y1="342.20" x2="1040.25" y2="342.20" stroke="#06263c" stroke-width="0.9"/>
<line x1="1076.02" y1="313.45" x2="1076.02" y2="341.50" stroke="#1ba1e2" stroke-width="1.7"/><line x1="1076.02" y1="313.45" x2="1076.02" y2="341.50" stroke="#06263c" stroke-width="0.9"/>
<line x1="1041.65" y1="342.20" x2="1075.32" y2="342.20" stroke="#1ba1e2" stroke-width="1.7"/><line x1="1041.65" y1="342.20" x2="1075.32" y2="342.20" stroke="#06263c" stroke-width="0.9"/>
<line x1="1111.09" y1="313.45" x2="1111.09" y2="341.50" stroke="#fdb414" stroke-width="1.7"/><line x1="1111.09" y1="313.45" x2="1111.09" y2="341.50" stroke="#5a1005" stroke-width="0.9"/>
<line x1="1076.72" y1="342.20" x2="1110.39" y2="342.20" stroke="#fdb414" stroke-width="1.7"/><line x1="1076.72" y1="342.20" x2="1110.39" y2="342.20" stroke="#5a1005" stroke-width="0.9"/>
<line x1="1146.16" y1="313.45" x2="1146.16" y2="341.50" stroke="#1ba1e2" stroke-width="1.7"/><line x1="1146.16" y1="313.45" x2="1146.16" y2="341.50" stroke="#06263c" stroke-width="0.9"/>
<line x1="1111.79" y1="342.20" x2="1145.46" y2="342.20" stroke="#1ba1e2" stroke-width="1.7"/><line x1="1111.79" y1="342.20" x2="1145.46" y2="342.20" stroke="#06263c" stroke-width="0.9"/>
<line x1="1146.86" y1="342.20" x2="1180.53" y2="342.20" stroke="#1ba1e2" stroke-width="1.7"/><line x1="1146.86" y1="342.20" x2="1180.53" y2="342.20" stroke="#06263c" stroke-width="0.9"/>
<line x1="1040.95" y1="342.90" x2="1040.95" y2="370.95" stroke="#1ba1e2" stroke-width="1.7"/><line x1="1040.95" y1="342.90" x2="1040.95" y2="370.95" stroke="#06263c" stroke-width="0.9"/>
<line x1="1006.58" y1="371.65" x2="1040.25" y2="371.65" stroke="#1ba1e2" stroke-width="1.7"/><line x1="1006.58" y1="371.65" x2="1040.25" y2="371.65" stroke="#06263c" stroke-width="0.9"/>
<line x1="1076.02" y1="342.90" x2="1076.02" y2="370.95" stroke="#1ba1e2" stroke-width="1.7"/><line x1="1076.02" y1="342.90" x2="1076.02" y2="370.95" stroke="#06263c" stroke-width="0.9"/>
<line x1="1041.65" y1="371.65" x2="1075.32" y2="371.65" stroke="#1ba1e2" stroke-width="1.7"/><line x1="1041.65" y1="371.65" x2="1075.32" y2="371.65" stroke="#06263c" stroke-width="0.9"/>
<line x1="1111.09" y1="342.90" x2="1111.09" y2="370.95" stroke="#fdb414" stroke-width="1.7"/><line x1="1111.09" y1="342.90" x2="1111.09" y2="370.95" stroke="#5a1005" stroke-width="0.9"/>
<line x1="1076.72" y1="371.65" x2="1110.39" y2="371.65" stroke="#fdb414" stroke-width="1.7"/><line x1="1076.72" y1="371.65" x2="1110.39" y2="371.65" stroke="#5a1005" stroke-width="0.9"/>
<line x1="1146.16" y1="342.90" x2="1146.16" y2="370.95" stroke="#1ba1e2" stroke-width="1.7"/><line x1="1146.16" y1="342.90" x2="1146.16" y2="370.95" stroke="#06263c" stroke-width="0.9"/>
<line x1="1111.79" y1="371.65" x2="1145.46" y2="371.65" stroke="#1ba1e2" stroke-width="1.7"/><line x1="1111.79" y1="371.65" x2="1145.46" y2="371.65" stroke="#06263c" stroke-width="0.9"/>
<line x1="1146.86" y1="371.65" x2="1180.53" y2="371.65" stroke="#1ba1e2" stroke-width="1.7"/><line x1="1146.86" y1="371.65" x2="1180.53" y2="371.65" stroke="#06263c" stroke-width="0.9"/>
<line x1="1040.95" y1="372.35" x2="1040.95" y2="400.40" stroke="#1ba1e2" stroke-width="1.7"/><line x1="1040.95" y1="372.35" x2="1040.95" y2="400.40" stroke="#06263c" stroke-width="0.9"/>
<line x1="1006.58" y1="401.10" x2="1040.25" y2="401.10" stroke="#1ba1e2" stroke-width="1.7"/><line x1="1006.58" y1="401.10" x2="1040.25" y2="401.10" stroke="#06263c" stroke-width="0.9"/>
<line x1="1076.02" y1="372.35" x2="1076.02" y2="400.40" stroke="#1ba1e2" stroke-width="1.7"/><line x1="1076.02" y1="372.35" x2="1076.02" y2="400.40" stroke="#06263c" stroke-width="0.9"/>
<line x1="1041.65" y1="401.10" x2="1075.32" y2="401.10" stroke="#1ba1e2" stroke-width="1.7"/><line x1="1041.65" y1="401.10" x2="1075.32" y2="401.10" stroke="#06263c" stroke-width="0.9"/>
<line x1="1111.09" y1="372.35" x2="1111.09" y2="400.40" stroke="#fdb414" stroke-width="1.7"/><line x1="1111.09" y1="372.35" x2="1111.09" y2="400.40" stroke="#5a1005" stroke-width="0.9"/>
<line x1="1076.72" y1="401.10" x2="1110.39" y2="401.10" stroke="#fdb414" stroke-width="1.7"/><line x1="1076.72" y1="401.10" x2="1110.39" y2="401.10" stroke="#5a1005" stroke-width="0.9"/>
<line x1="1146.16" y1="372.35" x2="1146.16" y2="400.40" stroke="#1ba1e2" stroke-width="1.7"/><line x1="1146.16" y1="372.35" x2="1146.16" y2="400.40" stroke="#06263c" stroke-width="0.9"/>
<line x1="1111.79" y1="401.10" x2="1145.46" y2="401.10" stroke="#1ba1e2" stroke-width="1.7"/><line x1="1111.79" y1="401.10" x2="1145.46" y2="401.10" stroke="#06263c" stroke-width="0.9"/>
<line x1="1146.86" y1="401.10" x2="1180.53" y2="401.10" stroke="#1ba1e2" stroke-width="1.7"/><line x1="1146.86" y1="401.10" x2="1180.53" y2="401.10" stroke="#06263c" stroke-width="0.9"/>
<line x1="1040.95" y1="401.80" x2="1040.95" y2="429.85" stroke="#1ba1e2" stroke-width="1.7"/><line x1="1040.95" y1="401.80" x2="1040.95" y2="429.85" stroke="#06263c" stroke-width="0.9"/>
<line x1="1006.58" y1="430.55" x2="1040.25" y2="430.55" stroke="#1ba1e2" stroke-width="1.7"/><line x1="1006.58" y1="430.55" x2="1040.25" y2="430.55" stroke="#06263c" stroke-width="0.9"/>
<line x1="1076.02" y1="401.80" x2="1076.02" y2="429.85" stroke="#1ba1e2" stroke-width="1.7"/><line x1="1076.02" y1="401.80" x2="1076.02" y2="429.85" stroke="#06263c" stroke-width="0.9"/>
<line x1="1041.65" y1="430.55" x2="1075.32" y2="430.55" stroke="#1ba1e2" stroke-width="1.7"/><line x1="1041.65" y1="430.55" x2="1075.32" y2="430.55" stroke="#06263c" stroke-width="0.9"/>
<line x1="1111.09" y1="401.80" x2="1111.09" y2="429.85" stroke="#fdb414" stroke-width="1.7"/><line x1="1111.09" y1="401.80" x2="1111.09" y2="429.85" stroke="#5a1005" stroke-width="0.9"/>
<line x1="1076.72" y1="430.55" x2="1110.39" y2="430.55" stroke="#fdb414" stroke-width="1.7"/><line x1="1076.72" y1="430.55" x2="1110.39" y2="430.55" stroke="#5a1005" stroke-width="0.9"/>
<line x1="1146.16" y1="401.80" x2="1146.16" y2="429.85" stroke="#1ba1e2" stroke-width="1.7"/><line x1="1146.16" y1="401.80" x2="1146.16" y2="429.85" stroke="#06263c" stroke-width="0.9"/>
<line x1="1111.79" y1="430.55" x2="1145.46" y2="430.55" stroke="#1ba1e2" stroke-width="1.7"/><line x1="1111.79" y1="430.55" x2="1145.46" y2="430.55" stroke="#06263c" stroke-width="0.9"/>
<line x1="1146.86" y1="430.55" x2="1180.53" y2="430.55" stroke="#1ba1e2" stroke-width="1.7"/><line x1="1146.86" y1="430.55" x2="1180.53" y2="430.55" stroke="#06263c" stroke-width="0.9"/>
<line x1="1040.95" y1="431.25" x2="1040.95" y2="459.30" stroke="#1ba1e2" stroke-width="1.7"/><line x1="1040.95" y1="431.25" x2="1040.95" y2="459.30" stroke="#06263c" stroke-width="0.9"/>
<line x1="1076.02" y1="431.25" x2="1076.02" y2="459.30" stroke="#1ba1e2" stroke-width="1.7"/><line x1="1076.02" y1="431.25" x2="1076.02" y2="459.30" stroke="#06263c" stroke-width="0.9"/>
<line x1="1111.09" y1="431.25" x2="1111.09" y2="459.30" stroke="#fdb414" stroke-width="1.7"/><line x1="1111.09" y1="431.25" x2="1111.09" y2="459.30" stroke="#5a1005" stroke-width="0.9"/>
<line x1="1146.16" y1="431.25" x2="1146.16" y2="459.30" stroke="#1ba1e2" stroke-width="1.7"/><line x1="1146.16" y1="431.25" x2="1146.16" y2="459.30" stroke="#06263c" stroke-width="0.9"/>
<rect x="867.30" y="343.90" width="33.97" height="28.35" fill="#242424"/>
<rect x="900.07" y="343.90" width="36.27" height="28.35" fill="#242424"/>
<rect x="935.14" y="343.90" width="33.97" height="28.35" fill="#242424"/>
<rect x="867.30" y="371.05" width="33.97" height="30.65" fill="#242424"/>
<rect x="900.07" y="371.05" width="36.27" height="30.65" fill="#242424"/>
<rect x="935.14" y="371.05" width="33.97" height="30.65" fill="#242424"/>
<rect x="867.30" y="400.50" width="33.97" height="30.65" fill="#242424"/>
<rect x="900.07" y="400.50" width="36.27" height="30.65" fill="#242424"/>
<rect x="935.14" y="400.50" width="36.27" height="30.65" fill="#242424"/>
<rect x="970.21" y="402.80" width="33.97" height="28.35" fill="#242424"/>
<rect x="867.30" y="429.95" width="33.97" height="28.35" fill="#242424"/>
<rect x="900.07" y="429.95" width="36.27" height="28.35" fill="#242424"/>
<rect x="935.14" y="429.95" width="36.27" height="28.35" fill="#242424"/>
<rect x="970.21" y="429.95" width="33.97" height="28.35" fill="#242424"/>
<text x="883.43" y="183.03" font-size="8.1" font-weight="bold" text-anchor="middle" fill="#1e1e1e">2 + 2</text>
<text x="918.50" y="183.03" font-size="8.1" font-weight="bold" text-anchor="middle" fill="#1e1e1e">4 + 1</text>
<text x="953.57" y="183.03" font-size="8.1" font-weight="bold" text-anchor="middle" fill="#1e1e1e">9 - 5</text>
<text x="883.43" y="212.47" font-size="8.1" font-weight="bold" text-anchor="middle" fill="#1e1e1e">7 - 4</text>
<text x="918.50" y="212.47" font-size="8.1" font-weight="bold" text-anchor="middle" fill="#1e1e1e">6 - 3</text>
<text x="953.57" y="212.47" font-size="8.1" font-weight="bold" text-anchor="middle" fill="#1e1e1e">3 + 2</text>
<text x="883.43" y="241.93" font-size="8.1" font-weight="bold" text-anchor="middle" fill="#1e1e1e">2 + 1</text>
<text x="918.50" y="241.93" font-size="8.1" font-weight="bold" text-anchor="middle" fill="#1e1e1e">1 + 1</text>
<text x="953.57" y="241.93" font-size="8.1" font-weight="bold" text-anchor="middle" fill="#1e1e1e">7 - 3</text>
<text x="1058.79" y="241.93" font-size="8.1" font-weight="bold" text-anchor="middle" fill="#1e1e1e">20 - 1</text>
<text x="1128.93" y="241.93" font-size="8.1" font-weight="bold" text-anchor="middle" fill="#1e1e1e">10 + 10</text>
<text x="883.43" y="271.38" font-size="8.1" font-weight="bold" text-anchor="middle" fill="#1e1e1e">6 - 1</text>
<text x="918.50" y="271.38" font-size="8.1" font-weight="bold" text-anchor="middle" fill="#1e1e1e">20 - 15</text>
<text x="953.57" y="271.38" font-size="8.1" font-weight="bold" text-anchor="middle" fill="#1e1e1e">10 - 6</text>
<text x="1023.71" y="271.38" font-size="8.1" font-weight="bold" text-anchor="middle" fill="#1e1e1e">15 + 5</text>
<text x="1093.86" y="271.38" font-size="8.1" font-weight="bold" text-anchor="middle" fill="#1e1e1e">11 + 8</text>
<text x="1164.00" y="271.38" font-size="8.1" font-weight="bold" text-anchor="middle" fill="#1e1e1e">20 - 2</text>
<text x="883.43" y="300.83" font-size="8.1" font-weight="bold" text-anchor="middle" fill="#1e1e1e">10 - 5</text>
<text x="918.50" y="300.83" font-size="8.1" font-weight="bold" text-anchor="middle" fill="#1e1e1e">3 + 1</text>
<text x="953.57" y="300.83" font-size="8.1" font-weight="bold" text-anchor="middle" fill="#1e1e1e">10 - 7</text>
<text x="1058.79" y="300.83" font-size="8.1" font-weight="bold" text-anchor="middle" fill="#1e1e1e">20 - 3</text>
<text x="1093.86" y="300.83" font-size="8.1" font-weight="bold" text-anchor="middle" fill="#1e1e1e">10 + 7</text>
<text x="1128.93" y="300.83" font-size="8.1" font-weight="bold" text-anchor="middle" fill="#1e1e1e">19 - 3</text>
<text x="1023.71" y="330.28" font-size="8.1" font-weight="bold" text-anchor="middle" fill="#1e1e1e">20 - 9</text>
<text x="1058.79" y="330.28" font-size="8.1" font-weight="bold" text-anchor="middle" fill="#1e1e1e">18 - 4</text>
<text x="1093.86" y="330.28" font-size="8.1" font-weight="bold" text-anchor="middle" fill="#1e1e1e">14 + 6</text>
<text x="1128.93" y="330.28" font-size="8.1" font-weight="bold" text-anchor="middle" fill="#1e1e1e">8 + 3</text>
<text x="1164.00" y="330.28" font-size="8.1" font-weight="bold" text-anchor="middle" fill="#1e1e1e">20 - 8</text>
<text x="883.43" y="359.73" font-size="8.1" font-weight="bold" text-anchor="middle" fill="#fff" stroke="#1a0a05" stroke-width="1.8" stroke-linejoin="round" paint-order="stroke">20 - 14</text>
<text x="918.50" y="359.73" font-size="8.1" font-weight="bold" text-anchor="middle" fill="#fff" stroke="#1a0a05" stroke-width="1.8" stroke-linejoin="round" paint-order="stroke">4 + 4</text>
<text x="953.57" y="359.73" font-size="8.1" font-weight="bold" text-anchor="middle" fill="#fff" stroke="#1a0a05" stroke-width="1.8" stroke-linejoin="round" paint-order="stroke">19 - 9</text>
<text x="1023.71" y="359.73" font-size="8.1" font-weight="bold" text-anchor="middle" fill="#1e1e1e">10 + 6</text>
<text x="1058.79" y="359.73" font-size="8.1" font-weight="bold" text-anchor="middle" fill="#1e1e1e">11 + 9</text>
<text x="1093.86" y="359.73" font-size="8.1" font-weight="bold" text-anchor="middle" fill="#1e1e1e">20 - 4</text>
<text x="1128.93" y="359.73" font-size="8.1" font-weight="bold" text-anchor="middle" fill="#1e1e1e">15 + 4</text>
<text x="1164.00" y="359.73" font-size="8.1" font-weight="bold" text-anchor="middle" fill="#1e1e1e">17 + 3</text>
<text x="883.43" y="389.18" font-size="8.1" font-weight="bold" text-anchor="middle" fill="#fff" stroke="#1a0a05" stroke-width="1.8" stroke-linejoin="round" paint-order="stroke">3 + 3</text>
<text x="918.50" y="389.18" font-size="8.1" font-weight="bold" text-anchor="middle" fill="#fff" stroke="#1a0a05" stroke-width="1.8" stroke-linejoin="round" paint-order="stroke">15 - 9</text>
<text x="953.57" y="389.18" font-size="8.1" font-weight="bold" text-anchor="middle" fill="#fff" stroke="#1a0a05" stroke-width="1.8" stroke-linejoin="round" paint-order="stroke">12 - 4</text>
<text x="1023.71" y="389.18" font-size="8.1" font-weight="bold" text-anchor="middle" fill="#1e1e1e">16 - 3</text>
<text x="1058.79" y="389.18" font-size="8.1" font-weight="bold" text-anchor="middle" fill="#1e1e1e">20 + 5</text>
<text x="1093.86" y="389.18" font-size="8.1" font-weight="bold" text-anchor="middle" fill="#1e1e1e">12 + 8</text>
<text x="1128.93" y="389.18" font-size="8.1" font-weight="bold" text-anchor="middle" fill="#1e1e1e">9 + 6</text>
<text x="1164.00" y="389.18" font-size="8.1" font-weight="bold" text-anchor="middle" fill="#1e1e1e">6 + 5</text>
<text x="883.43" y="418.63" font-size="8.1" font-weight="bold" text-anchor="middle" fill="#fff" stroke="#1a0a05" stroke-width="1.8" stroke-linejoin="round" paint-order="stroke">5 + 4</text>
<text x="918.50" y="418.63" font-size="8.1" font-weight="bold" text-anchor="middle" fill="#fff" stroke="#1a0a05" stroke-width="1.8" stroke-linejoin="round" paint-order="stroke">20 - 13</text>
<text x="953.57" y="418.63" font-size="8.1" font-weight="bold" text-anchor="middle" fill="#fff" stroke="#1a0a05" stroke-width="1.8" stroke-linejoin="round" paint-order="stroke">6 + 4</text>
<text x="988.64" y="418.63" font-size="8.1" font-weight="bold" text-anchor="middle" fill="#fff" stroke="#1a0a05" stroke-width="1.8" stroke-linejoin="round" paint-order="stroke">13 - 4</text>
<text x="1023.71" y="418.63" font-size="8.1" font-weight="bold" text-anchor="middle" fill="#1e1e1e">10 + 4</text>
<text x="1058.79" y="418.63" font-size="8.1" font-weight="bold" text-anchor="middle" fill="#1e1e1e">8 + 4</text>
<text x="1093.86" y="418.63" font-size="8.1" font-weight="bold" text-anchor="middle" fill="#1e1e1e">12 + 7</text>
<text x="1128.93" y="418.63" font-size="8.1" font-weight="bold" text-anchor="middle" fill="#1e1e1e">20 - 7</text>
<text x="1164.00" y="418.63" font-size="8.1" font-weight="bold" text-anchor="middle" fill="#1e1e1e">9 + 4</text>
<text x="883.43" y="448.08" font-size="8.1" font-weight="bold" text-anchor="middle" fill="#fff" stroke="#1a0a05" stroke-width="1.8" stroke-linejoin="round" paint-order="stroke">17 - 7</text>
<text x="918.50" y="448.08" font-size="8.1" font-weight="bold" text-anchor="middle" fill="#fff" stroke="#1a0a05" stroke-width="1.8" stroke-linejoin="round" paint-order="stroke">11 - 3</text>
<text x="953.57" y="448.08" font-size="8.1" font-weight="bold" text-anchor="middle" fill="#fff" stroke="#1a0a05" stroke-width="1.8" stroke-linejoin="round" paint-order="stroke">5 + 5</text>
<text x="988.64" y="448.08" font-size="8.1" font-weight="bold" text-anchor="middle" fill="#fff" stroke="#1a0a05" stroke-width="1.8" stroke-linejoin="round" paint-order="stroke">20 - 10</text>
<text x="1023.71" y="448.08" font-size="8.1" font-weight="bold" text-anchor="middle" fill="#1e1e1e">20 - 6</text>
<text x="1058.79" y="448.08" font-size="8.1" font-weight="bold" text-anchor="middle" fill="#1e1e1e">9 + 3</text>
<text x="1093.86" y="448.08" font-size="8.1" font-weight="bold" text-anchor="middle" fill="#1e1e1e">13 + 7</text>
<text x="1128.93" y="448.08" font-size="8.1" font-weight="bold" text-anchor="middle" fill="#1e1e1e">10 + 5</text>
<text x="1164.00" y="448.08" font-size="8.1" font-weight="bold" text-anchor="middle" fill="#1e1e1e">19 - 5</text>
<text x="865.6" y="477.9" font-size="9.2" fill="#111" textLength="220.4" lengthAdjust="spacingAndGlyphs"><tspan font-weight="bold">Challenge:</tspan> <tspan stroke="#111" stroke-width=".2">Use &lt;, &gt; or = to compare the calculations.</tspan></text>
<text x="865.60" y="495.40" font-size="8.8" fill="#111" textLength="27.40" lengthAdjust="spacingAndGlyphs" stroke="#111" stroke-width=".3">15 + 3</text>
<rect x="896.2" y="483.8" width="16.4" height="16.2" fill="#fff" stroke="#111" stroke-width="1.1"/>
<text x="904.40" y="495.00" font-size="8.4" font-weight="bold" text-anchor="middle" fill="#111">=</text>
<text x="916.70" y="495.40" font-size="8.8" fill="#111" textLength="25.80" lengthAdjust="spacingAndGlyphs" stroke="#111" stroke-width=".3">20 - 2</text>
<text x="973.60" y="495.40" font-size="8.8" fill="#111" textLength="25.00" lengthAdjust="spacingAndGlyphs" stroke="#111" stroke-width=".3">17 - 7</text>
<rect x="1002.3" y="483.8" width="16.4" height="16.2" fill="#fff" stroke="#111" stroke-width="1.1"/>
<text x="1010.50" y="495.00" font-size="8.4" font-weight="bold" text-anchor="middle" fill="#111">&gt;</text>
<text x="1022.50" y="495.40" font-size="8.8" fill="#111" textLength="22.20" lengthAdjust="spacingAndGlyphs" stroke="#111" stroke-width=".3">6 + 3</text>
<text x="1081.40" y="495.40" font-size="8.8" fill="#111" textLength="25.00" lengthAdjust="spacingAndGlyphs" stroke="#111" stroke-width=".3">20 - 1</text>
<rect x="1110.5" y="483.8" width="16.4" height="16.2" fill="#fff" stroke="#111" stroke-width="1.1"/>
<text x="1118.70" y="495.00" font-size="8.4" font-weight="bold" text-anchor="middle" fill="#111">&lt;</text>
<text x="1130.80" y="495.40" font-size="8.8" fill="#111" textLength="27.00" lengthAdjust="spacingAndGlyphs" stroke="#111" stroke-width=".3">14 + 6</text>
<line x1="865.6" y1="524.3" x2="1181.4" y2="524.3" stroke="#0a0a0a" stroke-width="1.7"/>
<g transform="translate(865.30,527.60)" fill="#000">
<ellipse cx="12.4" cy="8.2" rx="11.4" ry="5.6"/><circle cx="16" cy="4" r="4"/><circle cx="24.2" cy="5.6" r="3.2"/><circle cx="9.8" cy="12.8" r="3.5"/><circle cx="16.5" cy="11.4" r="3.6"/><circle cx="3.8" cy="7.8" r="3.8"/><circle cx="10" cy="4.6" r="3.4"/><circle cx="21.5" cy="8.6" r="3.6"/>
<text x="4.0" y="10.4" font-size="6.8" font-weight="bold" font-style="italic" fill="#fff" textLength="18.0" lengthAdjust="spacingAndGlyphs">twinkl</text>
</g>
<rect x="966" y="530" width="300" height="65.6" rx="2.4" fill="#6fab46" stroke="#46c24c" stroke-width="1.2"/>
<path d="M1184,480.6 C1196,508 1223.5,536 1223.5,566 C1223.5,588 1206,603.4 1184.6,603.4 C1163,603.4 1146,588 1146,566 C1146,536 1172,508 1184,480.6 Z" fill="#8abf48"/>
<path d="M1184,480.6 C1196,508 1223.5,536 1223.5,566 C1223.5,588 1206,603.4 1184.6,603.4 C1163,603.4 1146,588 1146,566 C1146,536 1172,508 1184,480.6 Z" fill="none" stroke="#6aa92f" stroke-width="1.1"/>
<rect x="1183.4" y="532" width="4.4" height="71" fill="#c2dd9c" opacity=".8"/>
<rect x="1183.4" y="603" width="4.4" height="12" fill="#6ed45c"/>
<text x="985.0" y="572.8" font-size="33.5" fill="#fff" stroke="#3aa835" stroke-width="2.8" stroke-linejoin="round" paint-order="stroke" textLength="142" lengthAdjust="spacingAndGlyphs">ink saving</text>
<text x="1160.2" y="570.4" font-size="31.2" font-weight="bold" fill="#fff" stroke="#62ab2c" stroke-width="2.2" stroke-linejoin="round" paint-order="stroke" textLength="51.4" lengthAdjust="spacingAndGlyphs">Eco</text>
</svg>
</body></html>
